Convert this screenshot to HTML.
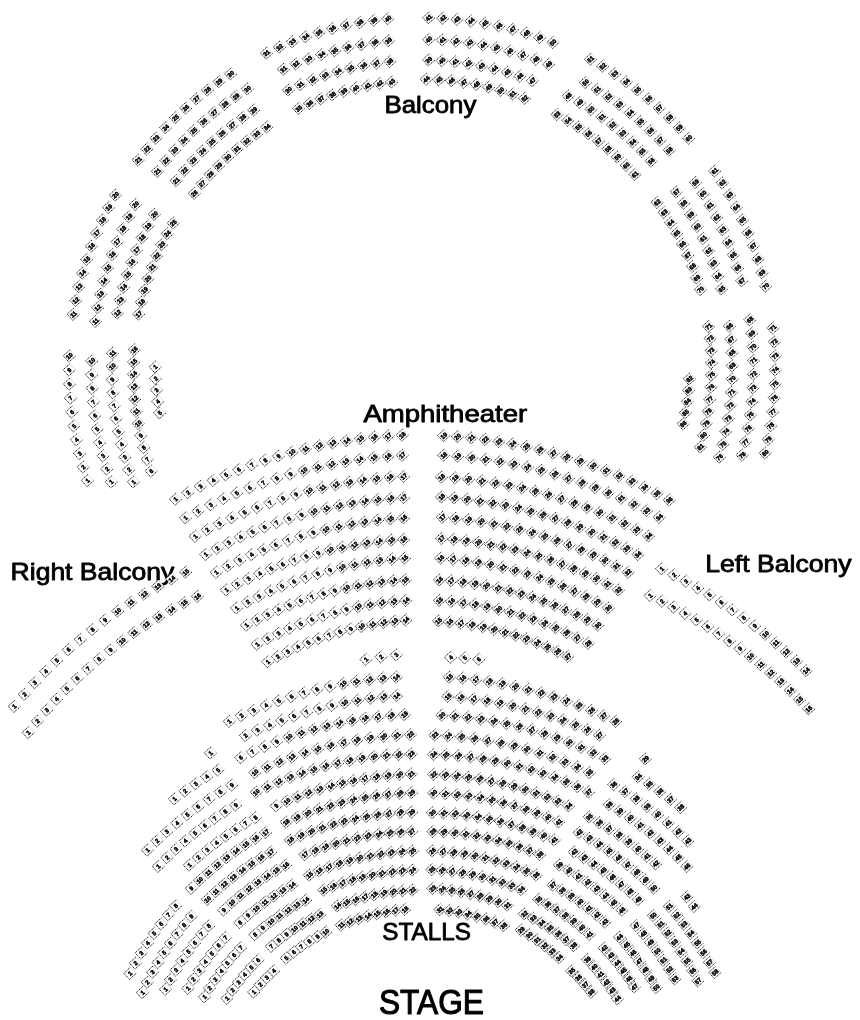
<!DOCTYPE html>
<html><head><meta charset="utf-8"><title>Seating plan</title>
<style>
html,body{margin:0;padding:0;background:#fff}
svg{display:block;opacity:.999;will-change:transform;font-family:"Liberation Sans",sans-serif}
.seats text{font-size:6px;font-weight:bold;text-anchor:middle;fill:#000;stroke:#000;stroke-width:.5px}
.labels text{fill:#000;stroke:#000;stroke-linejoin:round}
</style></head><body>
<svg width="860" height="1020" viewBox="0 0 860 1020">
<defs><g id="s"><path d="M9.0 0H0V8.4H9.0" fill="#fff" stroke="#000" stroke-width=".85" stroke-dasharray="1.3 .8"/><path d="M9.0 0V8.4" fill="none" stroke="#d8d8d8" stroke-width=".7"/></g></defs>
<rect width="860" height="1020" fill="#fff"/>
<g class="labels"><text x="384.4" y="113.0" font-size="23.6" stroke-width="0.8" textLength="92.0" lengthAdjust="spacingAndGlyphs">Balcony</text><text x="363.4" y="421.8" font-size="23.8" stroke-width="0.8" textLength="163.8" lengthAdjust="spacingAndGlyphs">Amphitheater</text><text x="10.6" y="580.0" font-size="23.2" stroke-width="0.8" textLength="163.6" lengthAdjust="spacingAndGlyphs">Right Balcony</text><text x="705.2" y="572.3" font-size="23.2" stroke-width="0.8" textLength="146.4" lengthAdjust="spacingAndGlyphs">Left Balcony</text><text x="382.2" y="939.8" font-size="24.2" stroke-width="0.8" textLength="88.7" lengthAdjust="spacingAndGlyphs">STALLS</text><text x="379.0" y="1014.4" font-size="35.0" stroke-width="1.1" textLength="104.9" lengthAdjust="spacingAndGlyphs">STAGE</text></g>
<g class="seats" transform="rotate(-42.0)">
<use href="#s" x="158.2" y="213.6"/><text x="162.7" y="220.0">31</text>
<use href="#s" x="171.7" y="217.8"/><text x="176.2" y="224.2">32</text>
<use href="#s" x="185.0" y="222.4"/><text x="189.5" y="228.8">33</text>
<use href="#s" x="198.1" y="227.6"/><text x="202.6" y="234.0">34</text>
<use href="#s" x="211.0" y="233.3"/><text x="215.5" y="239.7">35</text>
<use href="#s" x="223.6" y="239.5"/><text x="228.1" y="245.9">36</text>
<use href="#s" x="236.0" y="246.2"/><text x="240.5" y="252.6">37</text>
<use href="#s" x="248.1" y="253.4"/><text x="252.6" y="259.8">38</text>
<use href="#s" x="259.9" y="261.1"/><text x="264.4" y="267.5">39</text>
<use href="#s" x="271.4" y="269.2"/><text x="275.9" y="275.6">40</text>
<use href="#s" x="159.9" y="236.9"/><text x="164.4" y="243.3">31</text>
<use href="#s" x="172.8" y="241.3"/><text x="177.3" y="247.7">32</text>
<use href="#s" x="185.6" y="246.1"/><text x="190.1" y="252.5">33</text>
<use href="#s" x="198.2" y="251.5"/><text x="202.7" y="257.9">34</text>
<use href="#s" x="210.5" y="257.4"/><text x="215.0" y="263.8">35</text>
<use href="#s" x="222.6" y="263.8"/><text x="227.1" y="270.2">36</text>
<use href="#s" x="234.4" y="270.8"/><text x="238.9" y="277.2">37</text>
<use href="#s" x="245.9" y="278.1"/><text x="250.4" y="284.5">38</text>
<use href="#s" x="257.1" y="286.0"/><text x="261.6" y="292.4">39</text>
<use href="#s" x="149.7" y="255.7"/><text x="154.2" y="262.1">30</text>
<use href="#s" x="162.3" y="259.7"/><text x="166.8" y="266.1">31</text>
<use href="#s" x="174.8" y="264.3"/><text x="179.3" y="270.7">32</text>
<use href="#s" x="187.0" y="269.3"/><text x="191.5" y="275.7">33</text>
<use href="#s" x="198.9" y="275.0"/><text x="203.4" y="281.4">34</text>
<use href="#s" x="210.7" y="281.1"/><text x="215.2" y="287.5">35</text>
<use href="#s" x="222.1" y="287.7"/><text x="226.6" y="294.1">36</text>
<use href="#s" x="233.3" y="294.8"/><text x="237.8" y="301.2">37</text>
<use href="#s" x="244.2" y="302.3"/><text x="248.7" y="308.7">38</text>
<use href="#s" x="145.0" y="276.2"/><text x="149.5" y="282.6">35</text>
<use href="#s" x="156.6" y="279.9"/><text x="161.1" y="286.3">36</text>
<use href="#s" x="168.0" y="284.0"/><text x="172.5" y="290.4">37</text>
<use href="#s" x="179.2" y="288.7"/><text x="183.7" y="295.1">38</text>
<use href="#s" x="190.2" y="293.8"/><text x="194.7" y="300.2">39</text>
<use href="#s" x="201.0" y="299.4"/><text x="205.5" y="305.8">40</text>
<use href="#s" x="211.6" y="305.5"/><text x="216.1" y="311.9">41</text>
<use href="#s" x="221.9" y="311.9"/><text x="226.4" y="318.3">42</text>
<use href="#s" x="231.9" y="318.8"/><text x="236.4" y="325.2">43</text>
<use href="#s" x="302.3" y="295.9"/><text x="306.8" y="302.3">41</text>
<use href="#s" x="312.5" y="305.7"/><text x="317.0" y="312.1">42</text>
<use href="#s" x="322.3" y="316.0"/><text x="326.8" y="322.4">43</text>
<use href="#s" x="331.6" y="326.6"/><text x="336.1" y="333.0">44</text>
<use href="#s" x="340.5" y="337.6"/><text x="345.0" y="344.0">45</text>
<use href="#s" x="349.0" y="348.9"/><text x="353.5" y="355.3">46</text>
<use href="#s" x="357.0" y="360.6"/><text x="361.5" y="367.0">47</text>
<use href="#s" x="364.6" y="372.6"/><text x="369.1" y="379.0">48</text>
<use href="#s" x="371.6" y="384.9"/><text x="376.1" y="391.3">49</text>
<use href="#s" x="378.2" y="397.4"/><text x="382.7" y="403.8">50</text>
<use href="#s" x="287.8" y="312.0"/><text x="292.3" y="318.4">40</text>
<use href="#s" x="297.6" y="321.5"/><text x="302.1" y="327.9">41</text>
<use href="#s" x="307.0" y="331.5"/><text x="311.5" y="337.9">42</text>
<use href="#s" x="316.0" y="341.8"/><text x="320.5" y="348.2">43</text>
<use href="#s" x="324.6" y="352.5"/><text x="329.1" y="358.9">44</text>
<use href="#s" x="332.7" y="363.5"/><text x="337.2" y="369.9">45</text>
<use href="#s" x="340.3" y="374.9"/><text x="344.8" y="381.3">46</text>
<use href="#s" x="347.5" y="386.6"/><text x="352.0" y="393.0">47</text>
<use href="#s" x="354.2" y="398.5"/><text x="358.7" y="404.9">48</text>
<use href="#s" x="360.4" y="410.7"/><text x="364.9" y="417.1">49</text>
<use href="#s" x="274.1" y="327.2"/><text x="278.6" y="333.6">39</text>
<use href="#s" x="283.5" y="336.6"/><text x="288.0" y="343.0">40</text>
<use href="#s" x="292.6" y="346.3"/><text x="297.1" y="352.7">41</text>
<use href="#s" x="301.2" y="356.4"/><text x="305.7" y="362.8">42</text>
<use href="#s" x="309.3" y="366.9"/><text x="313.8" y="373.3">43</text>
<use href="#s" x="317.0" y="377.7"/><text x="321.5" y="384.1">44</text>
<use href="#s" x="324.3" y="388.9"/><text x="328.8" y="395.3">45</text>
<use href="#s" x="331.0" y="400.3"/><text x="335.5" y="406.7">46</text>
<use href="#s" x="337.3" y="412.0"/><text x="341.8" y="418.4">47</text>
<use href="#s" x="259.4" y="339.9"/><text x="263.9" y="346.3">44</text>
<use href="#s" x="268.4" y="348.7"/><text x="272.9" y="355.1">45</text>
<use href="#s" x="277.1" y="357.9"/><text x="281.6" y="364.3">46</text>
<use href="#s" x="285.3" y="367.4"/><text x="289.8" y="373.8">47</text>
<use href="#s" x="293.1" y="377.3"/><text x="297.6" y="383.7">48</text>
<use href="#s" x="300.4" y="387.5"/><text x="304.9" y="393.9">49</text>
<use href="#s" x="307.3" y="398.0"/><text x="311.8" y="404.4">50</text>
<use href="#s" x="313.8" y="408.8"/><text x="318.3" y="415.2">51</text>
<use href="#s" x="319.7" y="419.9"/><text x="324.2" y="426.3">52</text>
<use href="#s" x="-8.8" y="207.2"/><text x="-4.3" y="213.6">21</text>
<use href="#s" x="5.1" y="204.8"/><text x="9.6" y="211.2">22</text>
<use href="#s" x="19.1" y="202.8"/><text x="23.6" y="209.2">23</text>
<use href="#s" x="33.2" y="201.5"/><text x="37.7" y="207.9">24</text>
<use href="#s" x="47.3" y="200.6"/><text x="51.8" y="207.0">25</text>
<use href="#s" x="61.4" y="200.4"/><text x="65.9" y="206.8">26</text>
<use href="#s" x="75.5" y="200.7"/><text x="80.0" y="207.1">27</text>
<use href="#s" x="89.6" y="201.6"/><text x="94.1" y="208.0">28</text>
<use href="#s" x="103.7" y="203.1"/><text x="108.2" y="209.5">29</text>
<use href="#s" x="117.6" y="205.1"/><text x="122.1" y="211.5">30</text>
<use href="#s" x="-2.1" y="228.5"/><text x="2.4" y="234.9">21</text>
<use href="#s" x="11.4" y="226.1"/><text x="15.9" y="232.5">22</text>
<use href="#s" x="24.9" y="224.3"/><text x="29.4" y="230.7">23</text>
<use href="#s" x="38.5" y="223.1"/><text x="43.0" y="229.5">24</text>
<use href="#s" x="52.1" y="222.4"/><text x="56.6" y="228.8">25</text>
<use href="#s" x="65.7" y="222.3"/><text x="70.2" y="228.7">26</text>
<use href="#s" x="79.4" y="222.7"/><text x="83.9" y="229.1">27</text>
<use href="#s" x="93.0" y="223.7"/><text x="97.5" y="230.1">28</text>
<use href="#s" x="106.5" y="225.3"/><text x="111.0" y="231.7">29</text>
<use href="#s" x="120.0" y="227.4"/><text x="124.5" y="233.8">30</text>
<use href="#s" x="5.7" y="247.9"/><text x="10.2" y="254.3">21</text>
<use href="#s" x="18.7" y="245.9"/><text x="23.2" y="252.3">22</text>
<use href="#s" x="31.8" y="244.4"/><text x="36.3" y="250.8">23</text>
<use href="#s" x="44.9" y="243.5"/><text x="49.4" y="249.9">24</text>
<use href="#s" x="58.1" y="243.2"/><text x="62.6" y="249.6">25</text>
<use href="#s" x="71.3" y="243.4"/><text x="75.8" y="249.8">26</text>
<use href="#s" x="84.4" y="244.2"/><text x="88.9" y="250.6">27</text>
<use href="#s" x="97.5" y="245.5"/><text x="102.0" y="251.9">28</text>
<use href="#s" x="110.5" y="247.4"/><text x="115.0" y="253.8">29</text>
<use href="#s" x="10.6" y="269.5"/><text x="15.1" y="275.9">26</text>
<use href="#s" x="22.8" y="267.5"/><text x="27.3" y="273.9">27</text>
<use href="#s" x="35.0" y="266.1"/><text x="39.5" y="272.5">28</text>
<use href="#s" x="47.4" y="265.3"/><text x="51.9" y="271.7">29</text>
<use href="#s" x="59.7" y="264.9"/><text x="64.2" y="271.3">30</text>
<use href="#s" x="72.1" y="265.1"/><text x="76.6" y="271.5">31</text>
<use href="#s" x="84.4" y="265.8"/><text x="88.9" y="272.2">32</text>
<use href="#s" x="96.7" y="267.1"/><text x="101.2" y="273.5">33</text>
<use href="#s" x="108.9" y="268.8"/><text x="113.4" y="275.2">34</text>
<use href="#s" x="394.8" y="435.0"/><text x="399.3" y="441.4">51</text>
<use href="#s" x="399.2" y="448.3"/><text x="403.7" y="454.7">52</text>
<use href="#s" x="403.1" y="461.9"/><text x="407.6" y="468.3">53</text>
<use href="#s" x="406.4" y="475.6"/><text x="410.9" y="482.0">54</text>
<use href="#s" x="409.2" y="489.3"/><text x="413.7" y="495.7">55</text>
<use href="#s" x="411.5" y="503.2"/><text x="416.0" y="509.6">56</text>
<use href="#s" x="413.2" y="517.2"/><text x="417.7" y="523.6">57</text>
<use href="#s" x="414.3" y="531.3"/><text x="418.8" y="537.7">58</text>
<use href="#s" x="414.9" y="545.3"/><text x="419.4" y="551.7">59</text>
<use href="#s" x="414.9" y="559.4"/><text x="419.4" y="565.8">60</text>
<use href="#s" x="375.5" y="448.9"/><text x="380.0" y="455.3">50</text>
<use href="#s" x="379.6" y="461.8"/><text x="384.1" y="468.2">51</text>
<use href="#s" x="383.0" y="474.8"/><text x="387.5" y="481.2">52</text>
<use href="#s" x="386.0" y="488.0"/><text x="390.5" y="494.4">53</text>
<use href="#s" x="388.4" y="501.3"/><text x="392.9" y="507.7">54</text>
<use href="#s" x="390.2" y="514.7"/><text x="394.7" y="521.1">55</text>
<use href="#s" x="391.5" y="528.2"/><text x="396.0" y="534.6">56</text>
<use href="#s" x="392.3" y="541.7"/><text x="396.8" y="548.1">57</text>
<use href="#s" x="392.5" y="555.2"/><text x="397.0" y="561.6">58</text>
<use href="#s" x="353.7" y="447.3"/><text x="358.2" y="453.7">48</text>
<use href="#s" x="357.9" y="459.8"/><text x="362.4" y="466.2">49</text>
<use href="#s" x="361.6" y="472.6"/><text x="366.1" y="479.0">50</text>
<use href="#s" x="364.7" y="485.4"/><text x="369.2" y="491.8">51</text>
<use href="#s" x="367.2" y="498.4"/><text x="371.7" y="504.8">52</text>
<use href="#s" x="369.2" y="511.5"/><text x="373.7" y="517.9">53</text>
<use href="#s" x="370.7" y="524.7"/><text x="375.2" y="531.1">54</text>
<use href="#s" x="371.5" y="537.9"/><text x="376.0" y="544.3">55</text>
<use href="#s" x="371.8" y="551.2"/><text x="376.3" y="557.6">56</text>
<use href="#s" x="333.0" y="453.6"/><text x="337.5" y="460.0">53</text>
<use href="#s" x="337.0" y="465.3"/><text x="341.5" y="471.7">54</text>
<use href="#s" x="340.5" y="477.1"/><text x="345.0" y="483.5">55</text>
<use href="#s" x="343.5" y="489.0"/><text x="348.0" y="495.4">56</text>
<use href="#s" x="346.0" y="501.1"/><text x="350.5" y="507.5">57</text>
<use href="#s" x="347.9" y="513.3"/><text x="352.4" y="519.7">58</text>
<use href="#s" x="349.4" y="525.5"/><text x="353.9" y="531.9">59</text>
<use href="#s" x="350.3" y="537.8"/><text x="354.8" y="544.2">60</text>
<use href="#s" x="350.7" y="550.2"/><text x="355.2" y="556.6">61</text>
<use href="#s" x="-160.3" y="278.4"/><text x="-155.8" y="284.8">11</text>
<use href="#s" x="-149.1" y="269.8"/><text x="-144.6" y="276.2">12</text>
<use href="#s" x="-137.6" y="261.6"/><text x="-133.1" y="268.0">13</text>
<use href="#s" x="-125.8" y="253.9"/><text x="-121.3" y="260.3">14</text>
<use href="#s" x="-113.6" y="246.6"/><text x="-109.1" y="253.0">15</text>
<use href="#s" x="-101.2" y="239.9"/><text x="-96.7" y="246.3">16</text>
<use href="#s" x="-88.5" y="233.6"/><text x="-84.0" y="240.0">17</text>
<use href="#s" x="-75.6" y="227.9"/><text x="-71.1" y="234.3">18</text>
<use href="#s" x="-62.5" y="222.7"/><text x="-58.0" y="229.1">19</text>
<use href="#s" x="-49.1" y="218.0"/><text x="-44.6" y="224.4">20</text>
<use href="#s" x="-148.5" y="298.5"/><text x="-144.0" y="304.9">11</text>
<use href="#s" x="-137.7" y="289.9"/><text x="-133.2" y="296.3">12</text>
<use href="#s" x="-126.6" y="281.7"/><text x="-122.1" y="288.1">13</text>
<use href="#s" x="-115.2" y="274.0"/><text x="-110.7" y="280.4">14</text>
<use href="#s" x="-103.4" y="266.8"/><text x="-98.9" y="273.2">15</text>
<use href="#s" x="-91.3" y="260.1"/><text x="-86.8" y="266.5">16</text>
<use href="#s" x="-79.0" y="253.9"/><text x="-74.5" y="260.3">17</text>
<use href="#s" x="-66.4" y="248.2"/><text x="-61.9" y="254.6">18</text>
<use href="#s" x="-53.6" y="243.1"/><text x="-49.1" y="249.5">19</text>
<use href="#s" x="-40.6" y="238.4"/><text x="-36.1" y="244.8">20</text>
<use href="#s" x="-126.6" y="307.0"/><text x="-122.1" y="313.4">12</text>
<use href="#s" x="-115.9" y="299.2"/><text x="-111.4" y="305.6">13</text>
<use href="#s" x="-104.9" y="291.9"/><text x="-100.4" y="298.3">14</text>
<use href="#s" x="-93.5" y="285.1"/><text x="-89.0" y="291.5">15</text>
<use href="#s" x="-81.9" y="278.7"/><text x="-77.4" y="285.1">16</text>
<use href="#s" x="-70.1" y="272.9"/><text x="-65.6" y="279.3">17</text>
<use href="#s" x="-57.9" y="267.5"/><text x="-53.4" y="273.9">18</text>
<use href="#s" x="-45.6" y="262.7"/><text x="-41.1" y="269.1">19</text>
<use href="#s" x="-33.1" y="258.4"/><text x="-28.6" y="264.8">20</text>
<use href="#s" x="-111.5" y="322.0"/><text x="-107.0" y="328.4">17</text>
<use href="#s" x="-101.5" y="314.9"/><text x="-97.0" y="321.3">18</text>
<use href="#s" x="-91.3" y="308.2"/><text x="-86.8" y="314.6">19</text>
<use href="#s" x="-80.8" y="301.9"/><text x="-76.3" y="308.3">20</text>
<use href="#s" x="-70.1" y="296.1"/><text x="-65.6" y="302.5">21</text>
<use href="#s" x="-59.1" y="290.7"/><text x="-54.6" y="297.1">22</text>
<use href="#s" x="-47.9" y="285.8"/><text x="-43.4" y="292.2">23</text>
<use href="#s" x="-36.5" y="281.4"/><text x="-32.0" y="287.8">24</text>
<use href="#s" x="-24.9" y="277.5"/><text x="-20.4" y="283.9">25</text>
<use href="#s" x="412.3" y="601.1"/><text x="416.8" y="607.5">61</text>
<use href="#s" x="410.1" y="615.0"/><text x="414.6" y="621.4">62</text>
<use href="#s" x="407.4" y="628.8"/><text x="411.9" y="635.2">63</text>
<use href="#s" x="404.1" y="642.5"/><text x="408.6" y="648.9">64</text>
<use href="#s" x="400.2" y="656.0"/><text x="404.7" y="662.4">65</text>
<use href="#s" x="395.8" y="669.4"/><text x="400.3" y="675.8">66</text>
<use href="#s" x="390.9" y="682.5"/><text x="395.4" y="688.9">67</text>
<use href="#s" x="385.5" y="695.5"/><text x="390.0" y="701.9">68</text>
<use href="#s" x="379.5" y="708.3"/><text x="384.0" y="714.7">69</text>
<use href="#s" x="373.1" y="720.8"/><text x="377.6" y="727.2">70</text>
<use href="#s" x="390.4" y="596.7"/><text x="394.9" y="603.1">59</text>
<use href="#s" x="388.4" y="610.2"/><text x="392.9" y="616.6">60</text>
<use href="#s" x="385.8" y="623.6"/><text x="390.3" y="630.0">61</text>
<use href="#s" x="382.7" y="636.9"/><text x="387.2" y="643.3">62</text>
<use href="#s" x="379.0" y="650.1"/><text x="383.5" y="656.5">63</text>
<use href="#s" x="374.7" y="663.1"/><text x="379.2" y="669.5">64</text>
<use href="#s" x="370.0" y="675.9"/><text x="374.5" y="682.3">65</text>
<use href="#s" x="364.7" y="688.5"/><text x="369.2" y="694.9">66</text>
<use href="#s" x="358.9" y="700.8"/><text x="363.4" y="707.2">67</text>
<use href="#s" x="369.8" y="591.0"/><text x="374.3" y="597.4">57</text>
<use href="#s" x="367.8" y="604.3"/><text x="372.3" y="610.7">58</text>
<use href="#s" x="365.3" y="617.5"/><text x="369.8" y="623.9">59</text>
<use href="#s" x="362.3" y="630.6"/><text x="366.8" y="637.0">60</text>
<use href="#s" x="358.6" y="643.5"/><text x="363.1" y="649.9">61</text>
<use href="#s" x="354.5" y="656.2"/><text x="359.0" y="662.6">62</text>
<use href="#s" x="349.7" y="668.8"/><text x="354.2" y="675.2">63</text>
<use href="#s" x="344.5" y="681.2"/><text x="349.0" y="687.6">64</text>
<use href="#s" x="338.6" y="693.3"/><text x="343.1" y="699.7">65</text>
<use href="#s" x="348.5" y="585.9"/><text x="353.0" y="592.3">62</text>
<use href="#s" x="347.0" y="598.0"/><text x="351.5" y="604.4">63</text>
<use href="#s" x="345.0" y="610.1"/><text x="349.5" y="616.5">64</text>
<use href="#s" x="342.5" y="622.0"/><text x="347.0" y="628.4">65</text>
<use href="#s" x="339.4" y="633.9"/><text x="343.9" y="640.3">66</text>
<use href="#s" x="335.9" y="645.6"/><text x="340.4" y="652.0">67</text>
<use href="#s" x="331.9" y="657.1"/><text x="336.4" y="663.5">68</text>
<use href="#s" x="327.3" y="668.5"/><text x="331.8" y="674.9">69</text>
<use href="#s" x="322.4" y="679.7"/><text x="326.9" y="686.1">70</text>
<use href="#s" x="-191.1" y="306.7"/><text x="-186.6" y="313.1">10</text>
<use href="#s" x="-200.6" y="317.0"/><text x="-196.1" y="323.4">9</text>
<use href="#s" x="-209.8" y="327.7"/><text x="-205.3" y="334.1">8</text>
<use href="#s" x="-218.5" y="338.8"/><text x="-214.0" y="345.2">7</text>
<use href="#s" x="-226.7" y="350.1"/><text x="-222.2" y="356.5">6</text>
<use href="#s" x="-234.5" y="361.8"/><text x="-230.0" y="368.2">5</text>
<use href="#s" x="-241.8" y="373.8"/><text x="-237.3" y="380.2">4</text>
<use href="#s" x="-248.7" y="386.1"/><text x="-244.2" y="392.5">3</text>
<use href="#s" x="-255.0" y="398.6"/><text x="-250.5" y="405.0">2</text>
<use href="#s" x="-260.9" y="411.4"/><text x="-256.4" y="417.8">1</text>
<use href="#s" x="-177.8" y="325.4"/><text x="-173.3" y="331.8">10</text>
<use href="#s" x="-187.0" y="335.6"/><text x="-182.5" y="342.0">9</text>
<use href="#s" x="-195.8" y="346.0"/><text x="-191.3" y="352.4">8</text>
<use href="#s" x="-204.1" y="356.9"/><text x="-199.6" y="363.3">7</text>
<use href="#s" x="-212.0" y="368.1"/><text x="-207.5" y="374.5">6</text>
<use href="#s" x="-219.5" y="379.6"/><text x="-215.0" y="386.0">5</text>
<use href="#s" x="-226.4" y="391.4"/><text x="-221.9" y="397.8">4</text>
<use href="#s" x="-232.9" y="403.5"/><text x="-228.4" y="409.9">3</text>
<use href="#s" x="-238.8" y="415.8"/><text x="-234.3" y="422.2">2</text>
<use href="#s" x="-244.2" y="428.4"/><text x="-239.7" y="434.8">1</text>
<use href="#s" x="-157.2" y="333.6"/><text x="-152.7" y="340.0">11</text>
<use href="#s" x="-166.2" y="343.1"/><text x="-161.7" y="349.5">10</text>
<use href="#s" x="-174.9" y="353.0"/><text x="-170.4" y="359.4">9</text>
<use href="#s" x="-183.2" y="363.2"/><text x="-178.7" y="369.6">8</text>
<use href="#s" x="-191.0" y="373.8"/><text x="-186.5" y="380.2">7</text>
<use href="#s" x="-198.3" y="384.6"/><text x="-193.8" y="391.0">6</text>
<use href="#s" x="-205.2" y="395.8"/><text x="-200.7" y="402.2">5</text>
<use href="#s" x="-211.6" y="407.3"/><text x="-207.1" y="413.7">4</text>
<use href="#s" x="-217.5" y="419.0"/><text x="-213.0" y="425.4">3</text>
<use href="#s" x="-222.9" y="431.0"/><text x="-218.4" y="437.4">2</text>
<use href="#s" x="-227.8" y="443.2"/><text x="-223.3" y="449.6">1</text>
<use href="#s" x="-138.5" y="345.5"/><text x="-134.0" y="351.9">16</text>
<use href="#s" x="-147.3" y="354.2"/><text x="-142.8" y="360.6">15</text>
<use href="#s" x="-155.6" y="363.3"/><text x="-151.1" y="369.7">14</text>
<use href="#s" x="-163.6" y="372.8"/><text x="-159.1" y="379.2">13</text>
<use href="#s" x="-171.2" y="382.5"/><text x="-166.7" y="388.9">12</text>
<use href="#s" x="-178.3" y="392.6"/><text x="-173.8" y="399.0">11</text>
<use href="#s" x="-185.0" y="403.0"/><text x="-180.5" y="409.4">10</text>
<use href="#s" x="-191.2" y="413.6"/><text x="-186.7" y="420.0">9</text>
<use href="#s" x="-197.0" y="424.5"/><text x="-192.5" y="430.9">8</text>
<use href="#s" x="-202.3" y="435.6"/><text x="-197.8" y="442.0">7</text>
<use href="#s" x="-207.2" y="447.0"/><text x="-202.7" y="453.4">6</text>
<use href="#s" x="-134.5" y="372.4"/><text x="-130.0" y="378.8">1</text>
<use href="#s" x="-142.0" y="381.2"/><text x="-137.5" y="387.6">2</text>
<use href="#s" x="-149.1" y="390.3"/><text x="-144.6" y="396.7">3</text>
<use href="#s" x="-155.8" y="399.7"/><text x="-151.3" y="406.1">4</text>
<use href="#s" x="-162.0" y="409.4"/><text x="-157.5" y="415.8">5</text>
<use href="#s" x="350.5" y="756.8"/><text x="355.0" y="763.2">71</text>
<use href="#s" x="342.2" y="768.0"/><text x="346.7" y="774.4">72</text>
<use href="#s" x="333.4" y="779.0"/><text x="337.9" y="785.4">73</text>
<use href="#s" x="324.2" y="789.5"/><text x="328.7" y="795.9">74</text>
<use href="#s" x="314.7" y="799.7"/><text x="319.2" y="806.1">75</text>
<use href="#s" x="304.7" y="809.5"/><text x="309.2" y="815.9">76</text>
<use href="#s" x="294.3" y="818.9"/><text x="298.8" y="825.3">77</text>
<use href="#s" x="283.6" y="827.9"/><text x="288.1" y="834.3">78</text>
<use href="#s" x="272.5" y="836.4"/><text x="277.0" y="842.8">79</text>
<use href="#s" x="261.1" y="844.5"/><text x="265.6" y="850.9">80</text>
<use href="#s" x="338.9" y="735.2"/><text x="343.4" y="741.6">68</text>
<use href="#s" x="331.2" y="746.5"/><text x="335.7" y="752.9">69</text>
<use href="#s" x="323.0" y="757.4"/><text x="327.5" y="763.8">70</text>
<use href="#s" x="314.3" y="767.9"/><text x="318.8" y="774.3">71</text>
<use href="#s" x="305.2" y="778.1"/><text x="309.7" y="784.5">72</text>
<use href="#s" x="295.7" y="787.9"/><text x="300.2" y="794.3">73</text>
<use href="#s" x="285.8" y="797.3"/><text x="290.3" y="803.7">74</text>
<use href="#s" x="275.5" y="806.3"/><text x="280.0" y="812.7">75</text>
<use href="#s" x="264.9" y="814.8"/><text x="269.4" y="821.2">76</text>
<use href="#s" x="253.9" y="822.9"/><text x="258.4" y="829.3">77</text>
<use href="#s" x="242.6" y="830.6"/><text x="247.1" y="837.0">78</text>
<use href="#s" x="319.4" y="726.3"/><text x="323.9" y="732.7">66</text>
<use href="#s" x="311.7" y="737.1"/><text x="316.2" y="743.5">67</text>
<use href="#s" x="303.6" y="747.6"/><text x="308.1" y="754.0">68</text>
<use href="#s" x="295.1" y="757.6"/><text x="299.6" y="764.0">69</text>
<use href="#s" x="286.1" y="767.4"/><text x="290.6" y="773.8">70</text>
<use href="#s" x="276.7" y="776.7"/><text x="281.2" y="783.1">71</text>
<use href="#s" x="267.0" y="785.6"/><text x="271.5" y="792.0">72</text>
<use href="#s" x="256.8" y="794.1"/><text x="261.3" y="800.5">73</text>
<use href="#s" x="246.3" y="802.1"/><text x="250.8" y="808.5">74</text>
<use href="#s" x="235.5" y="809.7"/><text x="240.0" y="816.1">75</text>
<use href="#s" x="224.4" y="816.9"/><text x="228.9" y="823.3">76</text>
<use href="#s" x="303.8" y="712.5"/><text x="308.3" y="718.9">71</text>
<use href="#s" x="296.8" y="722.5"/><text x="301.3" y="728.9">72</text>
<use href="#s" x="289.4" y="732.2"/><text x="293.9" y="738.6">73</text>
<use href="#s" x="281.6" y="741.5"/><text x="286.1" y="747.9">74</text>
<use href="#s" x="273.4" y="750.5"/><text x="277.9" y="756.9">75</text>
<use href="#s" x="264.9" y="759.2"/><text x="269.4" y="765.6">76</text>
<use href="#s" x="255.9" y="767.5"/><text x="260.4" y="773.9">77</text>
<use href="#s" x="246.7" y="775.4"/><text x="251.2" y="781.8">78</text>
<use href="#s" x="237.1" y="782.9"/><text x="241.6" y="789.3">79</text>
<use href="#s" x="227.2" y="790.0"/><text x="231.7" y="796.4">80</text>
<use href="#s" x="217.0" y="796.7"/><text x="221.5" y="803.1">81</text>
<use href="#s" x="254.4" y="738.7"/><text x="258.9" y="745.1">82</text>
<use href="#s" x="246.2" y="746.5"/><text x="250.7" y="752.9">83</text>
<use href="#s" x="237.7" y="754.1"/><text x="242.2" y="760.5">84</text>
<use href="#s" x="228.9" y="761.2"/><text x="233.4" y="767.6">85</text>
<use href="#s" x="219.7" y="768.0"/><text x="224.2" y="774.4">86</text>
<use href="#s" x="-208.0" y="484.2"/><text x="-203.5" y="490.6">1</text>
<use href="#s" x="-194.4" y="487.6"/><text x="-189.9" y="494.0">2</text>
<use href="#s" x="-180.9" y="491.3"/><text x="-176.4" y="497.7">3</text>
<use href="#s" x="-167.5" y="495.4"/><text x="-163.0" y="501.8">4</text>
<use href="#s" x="-154.3" y="499.8"/><text x="-149.8" y="506.2">5</text>
<use href="#s" x="-141.2" y="504.6"/><text x="-136.7" y="511.0">6</text>
<use href="#s" x="-128.2" y="509.7"/><text x="-123.7" y="516.1">7</text>
<use href="#s" x="-115.3" y="515.2"/><text x="-110.8" y="521.6">8</text>
<use href="#s" x="-102.6" y="521.0"/><text x="-98.1" y="527.4">9</text>
<use href="#s" x="-90.1" y="527.2"/><text x="-85.6" y="533.6">10</text>
<use href="#s" x="-77.7" y="533.7"/><text x="-73.2" y="540.1">11</text>
<use href="#s" x="-65.5" y="540.6"/><text x="-61.0" y="547.0">12</text>
<use href="#s" x="-53.5" y="547.7"/><text x="-49.0" y="554.1">13</text>
<use href="#s" x="-41.7" y="555.2"/><text x="-37.2" y="561.6">14</text>
<use href="#s" x="-30.1" y="563.0"/><text x="-25.6" y="569.4">15</text>
<use href="#s" x="-18.7" y="571.1"/><text x="-14.2" y="577.5">16</text>
<use href="#s" x="-7.5" y="579.5"/><text x="-3.0" y="585.9">17</text>
<use href="#s" x="3.4" y="588.3"/><text x="7.9" y="594.7">18</text>
<use href="#s" x="-213.0" y="504.8"/><text x="-208.5" y="511.2">1</text>
<use href="#s" x="-199.2" y="508.1"/><text x="-194.7" y="514.5">2</text>
<use href="#s" x="-185.5" y="511.9"/><text x="-181.0" y="518.3">3</text>
<use href="#s" x="-171.9" y="516.0"/><text x="-167.4" y="522.4">4</text>
<use href="#s" x="-158.4" y="520.5"/><text x="-153.9" y="526.9">5</text>
<use href="#s" x="-145.1" y="525.4"/><text x="-140.6" y="531.8">6</text>
<use href="#s" x="-131.9" y="530.7"/><text x="-127.4" y="537.1">7</text>
<use href="#s" x="-118.8" y="536.4"/><text x="-114.3" y="542.8">8</text>
<use href="#s" x="-105.9" y="542.4"/><text x="-101.4" y="548.8">9</text>
<use href="#s" x="-93.2" y="548.8"/><text x="-88.7" y="555.2">10</text>
<use href="#s" x="-80.7" y="555.6"/><text x="-76.2" y="562.0">11</text>
<use href="#s" x="-68.4" y="562.7"/><text x="-63.9" y="569.1">12</text>
<use href="#s" x="-56.3" y="570.1"/><text x="-51.8" y="576.5">13</text>
<use href="#s" x="-44.4" y="577.9"/><text x="-39.9" y="584.3">14</text>
<use href="#s" x="-32.7" y="586.0"/><text x="-28.2" y="592.4">15</text>
<use href="#s" x="-21.3" y="594.5"/><text x="-16.8" y="600.9">16</text>
<use href="#s" x="-10.1" y="603.3"/><text x="-5.6" y="609.7">17</text>
<use href="#s" x="-218.2" y="524.9"/><text x="-213.7" y="531.3">1</text>
<use href="#s" x="-204.9" y="528.1"/><text x="-200.4" y="534.5">2</text>
<use href="#s" x="-191.7" y="531.7"/><text x="-187.2" y="538.1">3</text>
<use href="#s" x="-178.7" y="535.7"/><text x="-174.2" y="542.1">4</text>
<use href="#s" x="-165.7" y="540.1"/><text x="-161.2" y="546.5">5</text>
<use href="#s" x="-152.9" y="544.9"/><text x="-148.4" y="551.3">6</text>
<use href="#s" x="-140.2" y="550.0"/><text x="-135.7" y="556.4">7</text>
<use href="#s" x="-127.6" y="555.4"/><text x="-123.1" y="561.8">8</text>
<use href="#s" x="-115.2" y="561.2"/><text x="-110.7" y="567.6">9</text>
<use href="#s" x="-103.0" y="567.4"/><text x="-98.5" y="573.8">10</text>
<use href="#s" x="-91.0" y="573.9"/><text x="-86.5" y="580.3">11</text>
<use href="#s" x="-79.2" y="580.8"/><text x="-74.7" y="587.2">12</text>
<use href="#s" x="-67.5" y="588.0"/><text x="-63.0" y="594.4">13</text>
<use href="#s" x="-56.1" y="595.5"/><text x="-51.6" y="601.9">14</text>
<use href="#s" x="-44.9" y="603.4"/><text x="-40.4" y="609.8">15</text>
<use href="#s" x="-33.9" y="611.5"/><text x="-29.4" y="617.9">16</text>
<use href="#s" x="-23.2" y="620.0"/><text x="-18.7" y="626.4">17</text>
<use href="#s" x="-222.5" y="545.5"/><text x="-218.0" y="551.9">1</text>
<use href="#s" x="-209.9" y="548.6"/><text x="-205.4" y="555.0">2</text>
<use href="#s" x="-197.4" y="552.0"/><text x="-192.9" y="558.4">3</text>
<use href="#s" x="-185.0" y="555.8"/><text x="-180.5" y="562.2">4</text>
<use href="#s" x="-172.7" y="560.0"/><text x="-168.2" y="566.4">5</text>
<use href="#s" x="-160.5" y="564.5"/><text x="-156.0" y="570.9">6</text>
<use href="#s" x="-148.4" y="569.3"/><text x="-143.9" y="575.7">7</text>
<use href="#s" x="-136.5" y="574.5"/><text x="-132.0" y="580.9">8</text>
<use href="#s" x="-124.8" y="580.0"/><text x="-120.3" y="586.4">9</text>
<use href="#s" x="-113.2" y="585.9"/><text x="-108.7" y="592.3">10</text>
<use href="#s" x="-101.8" y="592.1"/><text x="-97.3" y="598.5">11</text>
<use href="#s" x="-90.5" y="598.6"/><text x="-86.0" y="605.0">12</text>
<use href="#s" x="-79.5" y="605.4"/><text x="-75.0" y="611.8">13</text>
<use href="#s" x="-68.6" y="612.5"/><text x="-64.1" y="618.9">14</text>
<use href="#s" x="-58.0" y="619.9"/><text x="-53.5" y="626.3">15</text>
<use href="#s" x="-47.5" y="627.7"/><text x="-43.0" y="634.1">16</text>
<use href="#s" x="-37.3" y="635.7"/><text x="-32.8" y="642.1">17</text>
<use href="#s" x="-226.6" y="565.8"/><text x="-222.1" y="572.2">1</text>
<use href="#s" x="-213.8" y="568.9"/><text x="-209.3" y="575.3">2</text>
<use href="#s" x="-201.2" y="572.4"/><text x="-196.7" y="578.8">3</text>
<use href="#s" x="-188.6" y="576.3"/><text x="-184.1" y="582.7">4</text>
<use href="#s" x="-176.2" y="580.6"/><text x="-171.7" y="587.0">5</text>
<use href="#s" x="-164.0" y="585.2"/><text x="-159.5" y="591.6">6</text>
<use href="#s" x="-151.8" y="590.2"/><text x="-147.3" y="596.6">7</text>
<use href="#s" x="-139.8" y="595.6"/><text x="-135.3" y="602.0">8</text>
<use href="#s" x="-128.0" y="601.3"/><text x="-123.5" y="607.7">9</text>
<use href="#s" x="-116.4" y="607.3"/><text x="-111.9" y="613.7">10</text>
<use href="#s" x="-105.0" y="613.7"/><text x="-100.5" y="620.1">11</text>
<use href="#s" x="-93.7" y="620.5"/><text x="-89.2" y="626.9">12</text>
<use href="#s" x="-82.7" y="627.6"/><text x="-78.2" y="634.0">13</text>
<use href="#s" x="-71.8" y="635.0"/><text x="-67.3" y="641.4">14</text>
<use href="#s" x="-61.3" y="642.7"/><text x="-56.8" y="649.1">15</text>
<use href="#s" x="-50.9" y="650.8"/><text x="-46.4" y="657.2">16</text>
<use href="#s" x="-230.9" y="585.6"/><text x="-226.4" y="592.0">1</text>
<use href="#s" x="-218.9" y="588.6"/><text x="-214.4" y="595.0">2</text>
<use href="#s" x="-207.0" y="592.0"/><text x="-202.5" y="598.4">3</text>
<use href="#s" x="-195.1" y="595.8"/><text x="-190.6" y="602.2">4</text>
<use href="#s" x="-183.4" y="599.8"/><text x="-178.9" y="606.2">5</text>
<use href="#s" x="-171.8" y="604.3"/><text x="-167.3" y="610.7">6</text>
<use href="#s" x="-160.4" y="609.1"/><text x="-155.9" y="615.5">7</text>
<use href="#s" x="-149.1" y="614.2"/><text x="-144.6" y="620.6">8</text>
<use href="#s" x="-138.0" y="619.6"/><text x="-133.5" y="626.0">9</text>
<use href="#s" x="-127.0" y="625.4"/><text x="-122.5" y="631.8">10</text>
<use href="#s" x="-116.2" y="631.5"/><text x="-111.7" y="637.9">11</text>
<use href="#s" x="-105.6" y="638.0"/><text x="-101.1" y="644.4">12</text>
<use href="#s" x="-95.2" y="644.7"/><text x="-90.7" y="651.1">13</text>
<use href="#s" x="-85.0" y="651.8"/><text x="-80.5" y="658.2">14</text>
<use href="#s" x="-75.0" y="659.1"/><text x="-70.5" y="665.5">15</text>
<use href="#s" x="-65.3" y="666.8"/><text x="-60.8" y="673.2">16</text>
<use href="#s" x="-235.4" y="605.9"/><text x="-230.9" y="612.3">1</text>
<use href="#s" x="-223.2" y="608.8"/><text x="-218.7" y="615.2">2</text>
<use href="#s" x="-211.0" y="612.2"/><text x="-206.5" y="618.6">3</text>
<use href="#s" x="-198.9" y="615.9"/><text x="-194.4" y="622.3">4</text>
<use href="#s" x="-187.0" y="620.1"/><text x="-182.5" y="626.5">5</text>
<use href="#s" x="-175.2" y="624.6"/><text x="-170.7" y="631.0">6</text>
<use href="#s" x="-163.5" y="629.4"/><text x="-159.0" y="635.8">7</text>
<use href="#s" x="-152.1" y="634.7"/><text x="-147.6" y="641.1">8</text>
<use href="#s" x="-140.7" y="640.3"/><text x="-136.2" y="646.7">9</text>
<use href="#s" x="-129.6" y="646.3"/><text x="-125.1" y="652.7">10</text>
<use href="#s" x="-118.7" y="652.6"/><text x="-114.2" y="659.0">11</text>
<use href="#s" x="-107.9" y="659.3"/><text x="-103.4" y="665.7">12</text>
<use href="#s" x="-97.4" y="666.3"/><text x="-92.9" y="672.7">13</text>
<use href="#s" x="-87.2" y="673.6"/><text x="-82.7" y="680.0">14</text>
<use href="#s" x="-77.1" y="681.3"/><text x="-72.6" y="687.7">15</text>
<use href="#s" x="-239.5" y="625.3"/><text x="-235.0" y="631.7">1</text>
<use href="#s" x="-228.0" y="628.3"/><text x="-223.5" y="634.7">2</text>
<use href="#s" x="-216.6" y="631.6"/><text x="-212.1" y="638.0">3</text>
<use href="#s" x="-205.3" y="635.2"/><text x="-200.8" y="641.6">4</text>
<use href="#s" x="-194.1" y="639.2"/><text x="-189.6" y="645.6">5</text>
<use href="#s" x="-183.0" y="643.6"/><text x="-178.5" y="650.0">6</text>
<use href="#s" x="-172.1" y="648.3"/><text x="-167.6" y="654.7">7</text>
<use href="#s" x="-161.3" y="653.4"/><text x="-156.8" y="659.8">8</text>
<use href="#s" x="-150.8" y="658.7"/><text x="-146.3" y="665.1">9</text>
<use href="#s" x="-140.3" y="664.5"/><text x="-135.8" y="670.9">10</text>
<use href="#s" x="-130.1" y="670.5"/><text x="-125.6" y="676.9">11</text>
<use href="#s" x="-120.1" y="676.9"/><text x="-115.6" y="683.3">12</text>
<use href="#s" x="-110.3" y="683.6"/><text x="-105.8" y="690.0">13</text>
<use href="#s" x="-100.6" y="690.6"/><text x="-96.1" y="697.0">14</text>
<use href="#s" x="-91.3" y="697.9"/><text x="-86.8" y="704.3">15</text>
<use href="#s" x="-244.4" y="646.6"/><text x="-239.9" y="653.0">1</text>
<use href="#s" x="-232.7" y="649.5"/><text x="-228.2" y="655.9">2</text>
<use href="#s" x="-221.2" y="652.8"/><text x="-216.7" y="659.2">3</text>
<use href="#s" x="-209.7" y="656.5"/><text x="-205.2" y="662.9">4</text>
<use href="#s" x="-198.4" y="660.5"/><text x="-193.9" y="666.9">5</text>
<use href="#s" x="-187.2" y="665.0"/><text x="-182.7" y="671.4">6</text>
<use href="#s" x="-176.2" y="669.8"/><text x="-171.7" y="676.2">7</text>
<use href="#s" x="-165.4" y="675.0"/><text x="-160.9" y="681.4">8</text>
<use href="#s" x="-154.7" y="680.5"/><text x="-150.2" y="686.9">9</text>
<use href="#s" x="-144.2" y="686.4"/><text x="-139.7" y="692.8">10</text>
<use href="#s" x="-134.0" y="692.7"/><text x="-129.5" y="699.1">11</text>
<use href="#s" x="-123.9" y="699.3"/><text x="-119.4" y="705.7">12</text>
<use href="#s" x="-114.1" y="706.2"/><text x="-109.6" y="712.6">13</text>
<use href="#s" x="-104.5" y="713.5"/><text x="-100.0" y="719.9">14</text>
<use href="#s" x="-248.2" y="666.7"/><text x="-243.7" y="673.1">1</text>
<use href="#s" x="-237.4" y="669.4"/><text x="-232.9" y="675.8">2</text>
<use href="#s" x="-226.6" y="672.4"/><text x="-222.1" y="678.8">3</text>
<use href="#s" x="-215.9" y="675.7"/><text x="-211.4" y="682.1">4</text>
<use href="#s" x="-205.4" y="679.5"/><text x="-200.9" y="685.9">5</text>
<use href="#s" x="-195.0" y="683.5"/><text x="-190.5" y="689.9">6</text>
<use href="#s" x="-184.7" y="688.0"/><text x="-180.2" y="694.4">7</text>
<use href="#s" x="-174.6" y="692.7"/><text x="-170.1" y="699.1">8</text>
<use href="#s" x="-164.6" y="697.8"/><text x="-160.1" y="704.2">9</text>
<use href="#s" x="-154.9" y="703.3"/><text x="-150.4" y="709.7">10</text>
<use href="#s" x="-145.3" y="709.0"/><text x="-140.8" y="715.4">11</text>
<use href="#s" x="-135.9" y="715.1"/><text x="-131.4" y="721.5">12</text>
<use href="#s" x="-126.7" y="721.5"/><text x="-122.2" y="727.9">13</text>
<use href="#s" x="-117.7" y="728.1"/><text x="-113.2" y="734.5">14</text>
<use href="#s" x="-173.7" y="730.7"/><text x="-169.2" y="737.1">1</text>
<use href="#s" x="-160.7" y="738.8"/><text x="-156.2" y="745.2">2</text>
<use href="#s" x="-148.1" y="747.6"/><text x="-143.6" y="754.0">3</text>
<use href="#s" x="33.8" y="616.4"/><text x="38.3" y="622.8">19</text>
<use href="#s" x="43.5" y="626.4"/><text x="48.0" y="632.8">20</text>
<use href="#s" x="53.0" y="636.6"/><text x="57.5" y="643.0">21</text>
<use href="#s" x="62.1" y="647.0"/><text x="66.6" y="653.4">22</text>
<use href="#s" x="71.0" y="657.7"/><text x="75.5" y="664.1">23</text>
<use href="#s" x="79.7" y="668.7"/><text x="84.2" y="675.1">24</text>
<use href="#s" x="88.0" y="679.8"/><text x="92.5" y="686.2">25</text>
<use href="#s" x="96.0" y="691.2"/><text x="100.5" y="697.6">26</text>
<use href="#s" x="103.7" y="702.8"/><text x="108.2" y="709.2">27</text>
<use href="#s" x="111.1" y="714.6"/><text x="115.6" y="721.0">28</text>
<use href="#s" x="118.2" y="726.6"/><text x="122.7" y="733.0">29</text>
<use href="#s" x="124.9" y="738.8"/><text x="129.4" y="745.2">30</text>
<use href="#s" x="131.3" y="751.1"/><text x="135.8" y="757.5">31</text>
<use href="#s" x="137.4" y="763.6"/><text x="141.9" y="770.0">32</text>
<use href="#s" x="143.2" y="776.3"/><text x="147.7" y="782.7">33</text>
<use href="#s" x="148.6" y="789.2"/><text x="153.1" y="795.6">34</text>
<use href="#s" x="153.6" y="802.1"/><text x="158.1" y="808.5">35</text>
<use href="#s" x="158.3" y="815.2"/><text x="162.8" y="821.6">36</text>
<use href="#s" x="20.6" y="631.0"/><text x="25.1" y="637.4">18</text>
<use href="#s" x="30.5" y="641.1"/><text x="35.0" y="647.5">19</text>
<use href="#s" x="40.0" y="651.5"/><text x="44.5" y="657.9">20</text>
<use href="#s" x="49.3" y="662.2"/><text x="53.8" y="668.6">21</text>
<use href="#s" x="58.3" y="673.2"/><text x="62.8" y="679.6">22</text>
<use href="#s" x="66.9" y="684.4"/><text x="71.4" y="690.8">23</text>
<use href="#s" x="75.2" y="695.8"/><text x="79.7" y="702.2">24</text>
<use href="#s" x="83.2" y="707.5"/><text x="87.7" y="713.9">25</text>
<use href="#s" x="90.9" y="719.4"/><text x="95.4" y="725.8">26</text>
<use href="#s" x="98.2" y="731.5"/><text x="102.7" y="737.9">27</text>
<use href="#s" x="105.1" y="743.8"/><text x="109.6" y="750.2">28</text>
<use href="#s" x="111.7" y="756.3"/><text x="116.2" y="762.7">29</text>
<use href="#s" x="118.0" y="769.0"/><text x="122.5" y="775.4">30</text>
<use href="#s" x="123.9" y="781.8"/><text x="128.4" y="788.2">31</text>
<use href="#s" x="129.4" y="794.8"/><text x="133.9" y="801.2">32</text>
<use href="#s" x="134.6" y="808.0"/><text x="139.1" y="814.4">33</text>
<use href="#s" x="139.4" y="821.3"/><text x="143.9" y="827.7">34</text>
<use href="#s" x="4.5" y="645.8"/><text x="9.0" y="652.2">18</text>
<use href="#s" x="14.0" y="655.5"/><text x="18.5" y="661.9">19</text>
<use href="#s" x="23.2" y="665.4"/><text x="27.7" y="671.8">20</text>
<use href="#s" x="32.1" y="675.7"/><text x="36.6" y="682.1">21</text>
<use href="#s" x="40.7" y="686.2"/><text x="45.2" y="692.6">22</text>
<use href="#s" x="49.1" y="696.9"/><text x="53.6" y="703.3">23</text>
<use href="#s" x="57.1" y="707.8"/><text x="61.6" y="714.2">24</text>
<use href="#s" x="64.8" y="719.0"/><text x="69.3" y="725.4">25</text>
<use href="#s" x="72.2" y="730.4"/><text x="76.7" y="736.8">26</text>
<use href="#s" x="79.2" y="742.0"/><text x="83.7" y="748.4">27</text>
<use href="#s" x="85.9" y="753.8"/><text x="90.4" y="760.2">28</text>
<use href="#s" x="92.3" y="765.8"/><text x="96.8" y="772.2">29</text>
<use href="#s" x="98.4" y="777.9"/><text x="102.9" y="784.3">30</text>
<use href="#s" x="104.1" y="790.2"/><text x="108.6" y="796.6">31</text>
<use href="#s" x="109.4" y="802.7"/><text x="113.9" y="809.1">32</text>
<use href="#s" x="114.4" y="815.4"/><text x="118.9" y="821.8">33</text>
<use href="#s" x="119.0" y="828.1"/><text x="123.5" y="834.5">34</text>
<use href="#s" x="-8.8" y="660.6"/><text x="-4.3" y="667.0">18</text>
<use href="#s" x="0.1" y="669.9"/><text x="4.6" y="676.3">19</text>
<use href="#s" x="8.8" y="679.4"/><text x="13.3" y="685.8">20</text>
<use href="#s" x="17.2" y="689.2"/><text x="21.7" y="695.6">21</text>
<use href="#s" x="25.3" y="699.3"/><text x="29.8" y="705.7">22</text>
<use href="#s" x="33.1" y="709.5"/><text x="37.6" y="715.9">23</text>
<use href="#s" x="40.7" y="720.0"/><text x="45.2" y="726.4">24</text>
<use href="#s" x="47.9" y="730.7"/><text x="52.4" y="737.1">25</text>
<use href="#s" x="54.8" y="741.6"/><text x="59.3" y="748.0">26</text>
<use href="#s" x="61.5" y="752.6"/><text x="66.0" y="759.0">27</text>
<use href="#s" x="67.8" y="763.9"/><text x="72.3" y="770.3">28</text>
<use href="#s" x="73.8" y="775.3"/><text x="78.3" y="781.7">29</text>
<use href="#s" x="79.4" y="786.9"/><text x="83.9" y="793.3">30</text>
<use href="#s" x="84.8" y="798.7"/><text x="89.3" y="805.1">31</text>
<use href="#s" x="89.8" y="810.6"/><text x="94.3" y="817.0">32</text>
<use href="#s" x="94.4" y="822.6"/><text x="98.9" y="829.0">33</text>
<use href="#s" x="98.7" y="834.8"/><text x="103.2" y="841.2">34</text>
<use href="#s" x="-21.7" y="676.2"/><text x="-17.2" y="682.6">17</text>
<use href="#s" x="-12.8" y="685.7"/><text x="-8.3" y="692.1">18</text>
<use href="#s" x="-4.1" y="695.4"/><text x="0.4" y="701.8">19</text>
<use href="#s" x="4.3" y="705.4"/><text x="8.8" y="711.8">20</text>
<use href="#s" x="12.3" y="715.6"/><text x="16.8" y="722.0">21</text>
<use href="#s" x="20.1" y="726.0"/><text x="24.6" y="732.4">22</text>
<use href="#s" x="27.5" y="736.7"/><text x="32.0" y="743.1">23</text>
<use href="#s" x="34.7" y="747.6"/><text x="39.2" y="754.0">24</text>
<use href="#s" x="41.5" y="758.7"/><text x="46.0" y="765.1">25</text>
<use href="#s" x="47.9" y="770.0"/><text x="52.4" y="776.4">26</text>
<use href="#s" x="54.0" y="781.4"/><text x="58.5" y="787.8">27</text>
<use href="#s" x="59.8" y="793.1"/><text x="64.3" y="799.5">28</text>
<use href="#s" x="65.3" y="804.9"/><text x="69.8" y="811.3">29</text>
<use href="#s" x="70.3" y="816.9"/><text x="74.8" y="823.3">30</text>
<use href="#s" x="75.0" y="829.0"/><text x="79.5" y="835.4">31</text>
<use href="#s" x="79.4" y="841.3"/><text x="83.9" y="847.7">32</text>
<use href="#s" x="-36.6" y="691.4"/><text x="-32.1" y="697.8">17</text>
<use href="#s" x="-28.0" y="700.3"/><text x="-23.5" y="706.7">18</text>
<use href="#s" x="-19.7" y="709.5"/><text x="-15.2" y="715.9">19</text>
<use href="#s" x="-11.7" y="719.0"/><text x="-7.2" y="725.4">20</text>
<use href="#s" x="-4.0" y="728.7"/><text x="0.5" y="735.1">21</text>
<use href="#s" x="3.5" y="738.6"/><text x="8.0" y="745.0">22</text>
<use href="#s" x="10.6" y="748.7"/><text x="15.1" y="755.1">23</text>
<use href="#s" x="17.4" y="759.0"/><text x="21.9" y="765.4">24</text>
<use href="#s" x="24.0" y="769.5"/><text x="28.5" y="775.9">25</text>
<use href="#s" x="30.2" y="780.2"/><text x="34.7" y="786.6">26</text>
<use href="#s" x="36.0" y="791.1"/><text x="40.5" y="797.5">27</text>
<use href="#s" x="41.6" y="802.2"/><text x="46.1" y="808.6">28</text>
<use href="#s" x="46.8" y="813.4"/><text x="51.3" y="819.8">29</text>
<use href="#s" x="51.7" y="824.8"/><text x="56.2" y="831.2">30</text>
<use href="#s" x="56.3" y="836.3"/><text x="60.8" y="842.7">31</text>
<use href="#s" x="60.5" y="848.0"/><text x="65.0" y="854.4">32</text>
<use href="#s" x="-50.4" y="705.4"/><text x="-45.9" y="711.8">16</text>
<use href="#s" x="-41.7" y="714.5"/><text x="-37.2" y="720.9">17</text>
<use href="#s" x="-33.4" y="724.0"/><text x="-28.9" y="730.4">18</text>
<use href="#s" x="-25.3" y="733.7"/><text x="-20.8" y="740.1">19</text>
<use href="#s" x="-17.6" y="743.6"/><text x="-13.1" y="750.0">20</text>
<use href="#s" x="-10.2" y="753.8"/><text x="-5.7" y="760.2">21</text>
<use href="#s" x="-3.1" y="764.3"/><text x="1.4" y="770.7">22</text>
<use href="#s" x="3.7" y="774.9"/><text x="8.2" y="781.3">23</text>
<use href="#s" x="10.1" y="785.8"/><text x="14.6" y="792.2">24</text>
<use href="#s" x="16.1" y="796.8"/><text x="20.6" y="803.2">25</text>
<use href="#s" x="21.8" y="808.1"/><text x="26.3" y="814.5">26</text>
<use href="#s" x="27.1" y="819.5"/><text x="31.6" y="825.9">27</text>
<use href="#s" x="32.1" y="831.1"/><text x="36.6" y="837.5">28</text>
<use href="#s" x="36.7" y="842.8"/><text x="41.2" y="849.2">29</text>
<use href="#s" x="40.9" y="854.7"/><text x="45.4" y="861.1">30</text>
<use href="#s" x="-65.8" y="720.8"/><text x="-61.3" y="727.2">16</text>
<use href="#s" x="-57.6" y="729.3"/><text x="-53.1" y="735.7">17</text>
<use href="#s" x="-49.7" y="738.1"/><text x="-45.2" y="744.5">18</text>
<use href="#s" x="-42.0" y="747.2"/><text x="-37.5" y="753.6">19</text>
<use href="#s" x="-34.7" y="756.5"/><text x="-30.2" y="762.9">20</text>
<use href="#s" x="-27.6" y="766.0"/><text x="-23.1" y="772.4">21</text>
<use href="#s" x="-20.8" y="775.8"/><text x="-16.3" y="782.2">22</text>
<use href="#s" x="-14.4" y="785.7"/><text x="-9.9" y="792.1">23</text>
<use href="#s" x="-8.2" y="795.9"/><text x="-3.7" y="802.3">24</text>
<use href="#s" x="-2.4" y="806.2"/><text x="2.1" y="812.6">25</text>
<use href="#s" x="3.0" y="816.7"/><text x="7.5" y="823.1">26</text>
<use href="#s" x="8.2" y="827.4"/><text x="12.7" y="833.8">27</text>
<use href="#s" x="13.0" y="838.3"/><text x="17.5" y="844.7">28</text>
<use href="#s" x="17.4" y="849.3"/><text x="21.9" y="855.7">29</text>
<use href="#s" x="21.6" y="860.4"/><text x="26.1" y="866.8">30</text>
<use href="#s" x="-79.6" y="736.0"/><text x="-75.1" y="742.4">15</text>
<use href="#s" x="-71.3" y="744.7"/><text x="-66.8" y="751.1">16</text>
<use href="#s" x="-63.3" y="753.7"/><text x="-58.8" y="760.1">17</text>
<use href="#s" x="-55.7" y="762.9"/><text x="-51.2" y="769.3">18</text>
<use href="#s" x="-48.3" y="772.4"/><text x="-43.8" y="778.8">19</text>
<use href="#s" x="-41.3" y="782.2"/><text x="-36.8" y="788.6">20</text>
<use href="#s" x="-34.6" y="792.1"/><text x="-30.1" y="798.5">21</text>
<use href="#s" x="-28.3" y="802.3"/><text x="-23.8" y="808.7">22</text>
<use href="#s" x="-22.3" y="812.7"/><text x="-17.8" y="819.1">23</text>
<use href="#s" x="-16.7" y="823.3"/><text x="-12.2" y="829.7">24</text>
<use href="#s" x="-11.4" y="834.1"/><text x="-6.9" y="840.5">25</text>
<use href="#s" x="-6.5" y="845.1"/><text x="-2.0" y="851.5">26</text>
<use href="#s" x="-2.0" y="856.2"/><text x="2.5" y="862.6">27</text>
<use href="#s" x="2.2" y="867.4"/><text x="6.7" y="873.8">28</text>
<use href="#s" x="-94.0" y="750.7"/><text x="-89.5" y="757.1">15</text>
<use href="#s" x="-86.3" y="758.9"/><text x="-81.8" y="765.3">16</text>
<use href="#s" x="-78.8" y="767.3"/><text x="-74.3" y="773.7">17</text>
<use href="#s" x="-71.7" y="776.0"/><text x="-67.2" y="782.4">18</text>
<use href="#s" x="-64.8" y="784.9"/><text x="-60.3" y="791.3">19</text>
<use href="#s" x="-58.3" y="794.1"/><text x="-53.8" y="800.5">20</text>
<use href="#s" x="-52.0" y="803.5"/><text x="-47.5" y="809.9">21</text>
<use href="#s" x="-46.1" y="813.0"/><text x="-41.6" y="819.4">22</text>
<use href="#s" x="-40.5" y="822.8"/><text x="-36.0" y="829.2">23</text>
<use href="#s" x="-35.3" y="832.8"/><text x="-30.8" y="839.2">24</text>
<use href="#s" x="-30.3" y="842.9"/><text x="-25.8" y="849.3">25</text>
<use href="#s" x="-25.8" y="853.2"/><text x="-21.3" y="859.6">26</text>
<use href="#s" x="-21.5" y="863.6"/><text x="-17.0" y="870.0">27</text>
<use href="#s" x="-109.3" y="785.8"/><text x="-104.8" y="792.2">4</text>
<use href="#s" x="-99.3" y="795.7"/><text x="-94.8" y="802.1">5</text>
<use href="#s" x="-89.8" y="806.1"/><text x="-85.3" y="812.5">6</text>
<use href="#s" x="-466.5" y="530.3"/><text x="-462.0" y="536.7">1</text>
<use href="#s" x="-450.9" y="528.1"/><text x="-446.4" y="534.5">2</text>
<use href="#s" x="-435.3" y="526.4"/><text x="-430.8" y="532.8">3</text>
<use href="#s" x="-419.7" y="525.2"/><text x="-415.2" y="531.6">4</text>
<use href="#s" x="-404.0" y="524.5"/><text x="-399.5" y="530.9">5</text>
<use href="#s" x="-388.3" y="524.3"/><text x="-383.8" y="530.7">6</text>
<use href="#s" x="-372.6" y="524.7"/><text x="-368.1" y="531.1">7</text>
<use href="#s" x="-357.0" y="525.5"/><text x="-352.5" y="531.9">8</text>
<use href="#s" x="-341.3" y="526.8"/><text x="-336.8" y="533.2">9</text>
<use href="#s" x="-325.8" y="528.7"/><text x="-321.3" y="535.1">10</text>
<use href="#s" x="-310.2" y="531.0"/><text x="-305.7" y="537.4">11</text>
<use href="#s" x="-294.8" y="533.8"/><text x="-290.3" y="540.2">12</text>
<use href="#s" x="-279.5" y="537.1"/><text x="-275.0" y="543.5">13</text>
<use href="#s" x="-264.3" y="540.9"/><text x="-259.8" y="547.3">14</text>
<use href="#s" x="-249.2" y="545.2"/><text x="-244.7" y="551.6">15</text>
<use href="#s" x="-473.6" y="559.1"/><text x="-469.1" y="565.5">1</text>
<use href="#s" x="-459.2" y="556.7"/><text x="-454.7" y="563.1">2</text>
<use href="#s" x="-444.7" y="554.7"/><text x="-440.2" y="561.1">3</text>
<use href="#s" x="-430.2" y="553.2"/><text x="-425.7" y="559.6">4</text>
<use href="#s" x="-415.6" y="552.2"/><text x="-411.1" y="558.6">5</text>
<use href="#s" x="-401.0" y="551.6"/><text x="-396.5" y="558.0">6</text>
<use href="#s" x="-386.4" y="551.5"/><text x="-381.9" y="557.9">7</text>
<use href="#s" x="-371.8" y="551.8"/><text x="-367.3" y="558.2">8</text>
<use href="#s" x="-357.2" y="552.7"/><text x="-352.7" y="559.1">9</text>
<use href="#s" x="-342.6" y="553.9"/><text x="-338.1" y="560.3">10</text>
<use href="#s" x="-328.1" y="555.6"/><text x="-323.6" y="562.0">11</text>
<use href="#s" x="-313.6" y="557.8"/><text x="-309.1" y="564.2">12</text>
<use href="#s" x="-299.3" y="560.5"/><text x="-294.8" y="566.9">13</text>
<use href="#s" x="-285.0" y="563.6"/><text x="-280.5" y="570.0">14</text>
<use href="#s" x="-270.8" y="567.1"/><text x="-266.3" y="573.5">15</text>
<use href="#s" x="-256.7" y="571.1"/><text x="-252.2" y="577.5">16</text>
<use href="#s" x="106.7" y="861.2"/><text x="111.2" y="867.6">1</text>
<use href="#s" x="111.7" y="873.9"/><text x="116.2" y="880.3">2</text>
<use href="#s" x="116.4" y="886.7"/><text x="120.9" y="893.1">3</text>
<use href="#s" x="120.7" y="899.7"/><text x="125.2" y="906.1">4</text>
<use href="#s" x="124.8" y="912.7"/><text x="129.3" y="919.1">5</text>
<use href="#s" x="128.5" y="925.9"/><text x="133.0" y="932.3">6</text>
<use href="#s" x="131.8" y="939.1"/><text x="136.3" y="945.5">7</text>
<use href="#s" x="134.9" y="952.5"/><text x="139.4" y="958.9">8</text>
<use href="#s" x="137.6" y="965.9"/><text x="142.1" y="972.3">9</text>
<use href="#s" x="140.0" y="979.3"/><text x="144.5" y="985.7">10</text>
<use href="#s" x="142.0" y="992.8"/><text x="146.5" y="999.2">11</text>
<use href="#s" x="143.7" y="1006.4"/><text x="148.2" y="1012.8">12</text>
<use href="#s" x="145.0" y="1020.0"/><text x="149.5" y="1026.4">13</text>
<use href="#s" x="146.0" y="1033.6"/><text x="150.5" y="1040.0">14</text>
<use href="#s" x="80.2" y="873.4"/><text x="84.7" y="879.8">1</text>
<use href="#s" x="85.2" y="885.5"/><text x="89.7" y="891.9">2</text>
<use href="#s" x="89.9" y="897.7"/><text x="94.4" y="904.1">3</text>
<use href="#s" x="94.3" y="910.0"/><text x="98.8" y="916.4">4</text>
<use href="#s" x="98.4" y="922.4"/><text x="102.9" y="928.8">5</text>
<use href="#s" x="102.2" y="934.9"/><text x="106.7" y="941.3">6</text>
<use href="#s" x="105.7" y="947.5"/><text x="110.2" y="953.9">7</text>
<use href="#s" x="108.8" y="960.2"/><text x="113.3" y="966.6">8</text>
<use href="#s" x="111.6" y="973.0"/><text x="116.1" y="979.4">9</text>
<use href="#s" x="114.1" y="985.8"/><text x="118.6" y="992.2">10</text>
<use href="#s" x="116.3" y="998.7"/><text x="120.8" y="1005.1">11</text>
<use href="#s" x="118.1" y="1011.6"/><text x="122.6" y="1018.0">12</text>
<use href="#s" x="119.7" y="1024.6"/><text x="124.2" y="1031.0">13</text>
<use href="#s" x="120.9" y="1037.6"/><text x="125.4" y="1044.0">14</text>
<use href="#s" x="121.7" y="1050.7"/><text x="126.2" y="1057.1">15</text>
<use href="#s" x="122.3" y="1063.7"/><text x="126.8" y="1070.1">16</text>
<use href="#s" x="-316.7" y="685.3"/><text x="-312.2" y="691.7">1</text>
<use href="#s" x="-303.9" y="689.1"/><text x="-299.4" y="695.5">2</text>
<use href="#s" x="-291.3" y="693.4"/><text x="-286.8" y="699.8">3</text>
<use href="#s" x="-278.7" y="698.0"/><text x="-274.2" y="704.4">4</text>
<use href="#s" x="-266.3" y="703.0"/><text x="-261.8" y="709.4">5</text>
<use href="#s" x="-254.0" y="708.4"/><text x="-249.5" y="714.8">6</text>
<use href="#s" x="-242.0" y="714.1"/><text x="-237.5" y="720.5">7</text>
<use href="#s" x="-230.1" y="720.2"/><text x="-225.6" y="726.6">8</text>
<use href="#s" x="-218.4" y="726.7"/><text x="-213.9" y="733.1">9</text>
<use href="#s" x="-206.8" y="733.5"/><text x="-202.3" y="739.9">10</text>
<use href="#s" x="-195.5" y="740.6"/><text x="-191.0" y="747.0">11</text>
<use href="#s" x="-184.5" y="748.1"/><text x="-180.0" y="754.5">12</text>
<use href="#s" x="-173.6" y="755.9"/><text x="-169.1" y="762.3">13</text>
<use href="#s" x="-163.0" y="764.1"/><text x="-158.5" y="770.5">14</text>
<use href="#s" x="-314.2" y="706.7"/><text x="-309.7" y="713.1">2</text>
<use href="#s" x="-301.7" y="710.6"/><text x="-297.2" y="717.0">3</text>
<use href="#s" x="-289.3" y="714.9"/><text x="-284.8" y="721.3">4</text>
<use href="#s" x="-277.1" y="719.6"/><text x="-272.6" y="726.0">5</text>
<use href="#s" x="-265.0" y="724.7"/><text x="-260.5" y="731.1">6</text>
<use href="#s" x="-253.0" y="730.1"/><text x="-248.5" y="736.5">7</text>
<use href="#s" x="-241.3" y="735.9"/><text x="-236.8" y="742.3">8</text>
<use href="#s" x="-229.7" y="742.1"/><text x="-225.2" y="748.5">9</text>
<use href="#s" x="-218.3" y="748.6"/><text x="-213.8" y="755.0">10</text>
<use href="#s" x="-207.2" y="755.5"/><text x="-202.7" y="761.9">11</text>
<use href="#s" x="-196.2" y="762.7"/><text x="-191.7" y="769.1">12</text>
<use href="#s" x="-185.5" y="770.3"/><text x="-181.0" y="776.7">13</text>
<use href="#s" x="-175.0" y="778.2"/><text x="-170.5" y="784.6">14</text>
<use href="#s" x="-332.4" y="719.9"/><text x="-327.9" y="726.3">6</text>
<use href="#s" x="-319.8" y="723.5"/><text x="-315.3" y="729.9">7</text>
<use href="#s" x="-307.3" y="727.6"/><text x="-302.8" y="734.0">8</text>
<use href="#s" x="-295.0" y="732.0"/><text x="-290.5" y="738.4">9</text>
<use href="#s" x="-282.8" y="736.9"/><text x="-278.3" y="743.3">10</text>
<use href="#s" x="-270.8" y="742.1"/><text x="-266.3" y="748.5">11</text>
<use href="#s" x="-259.0" y="747.8"/><text x="-254.5" y="754.2">12</text>
<use href="#s" x="-247.3" y="753.8"/><text x="-242.8" y="760.2">13</text>
<use href="#s" x="-235.9" y="760.2"/><text x="-231.4" y="766.6">14</text>
<use href="#s" x="-224.6" y="766.9"/><text x="-220.1" y="773.3">15</text>
<use href="#s" x="-213.6" y="774.0"/><text x="-209.1" y="780.4">16</text>
<use href="#s" x="-202.8" y="781.5"/><text x="-198.3" y="787.9">17</text>
<use href="#s" x="-192.3" y="789.3"/><text x="-187.8" y="795.7">18</text>
<use href="#s" x="-182.0" y="797.4"/><text x="-177.5" y="803.8">19</text>
<use href="#s" x="-331.9" y="740.5"/><text x="-327.4" y="746.9">10</text>
<use href="#s" x="-319.1" y="744.5"/><text x="-314.6" y="750.9">11</text>
<use href="#s" x="-306.4" y="748.9"/><text x="-301.9" y="755.3">12</text>
<use href="#s" x="-293.9" y="753.8"/><text x="-289.4" y="760.2">13</text>
<use href="#s" x="-281.5" y="759.1"/><text x="-277.0" y="765.5">14</text>
<use href="#s" x="-269.4" y="764.9"/><text x="-264.9" y="771.3">15</text>
<use href="#s" x="-257.4" y="771.0"/><text x="-252.9" y="777.4">16</text>
<use href="#s" x="-245.7" y="777.6"/><text x="-241.2" y="784.0">17</text>
<use href="#s" x="-234.2" y="784.6"/><text x="-229.7" y="791.0">18</text>
<use href="#s" x="-223.0" y="791.9"/><text x="-218.5" y="798.3">19</text>
<use href="#s" x="-212.0" y="799.7"/><text x="-207.5" y="806.1">20</text>
<use href="#s" x="-201.3" y="807.8"/><text x="-196.8" y="814.2">21</text>
<use href="#s" x="-190.9" y="816.3"/><text x="-186.4" y="822.7">22</text>
<use href="#s" x="-344.0" y="755.9"/><text x="-339.5" y="762.3">10</text>
<use href="#s" x="-332.1" y="759.4"/><text x="-327.6" y="765.8">11</text>
<use href="#s" x="-320.4" y="763.3"/><text x="-315.9" y="769.7">12</text>
<use href="#s" x="-308.8" y="767.6"/><text x="-304.3" y="774.0">13</text>
<use href="#s" x="-297.3" y="772.4"/><text x="-292.8" y="778.8">14</text>
<use href="#s" x="-286.1" y="777.4"/><text x="-281.6" y="783.8">15</text>
<use href="#s" x="-274.9" y="782.9"/><text x="-270.4" y="789.3">16</text>
<use href="#s" x="-264.0" y="788.8"/><text x="-259.5" y="795.2">17</text>
<use href="#s" x="-253.3" y="795.0"/><text x="-248.8" y="801.4">18</text>
<use href="#s" x="-242.8" y="801.5"/><text x="-238.3" y="807.9">19</text>
<use href="#s" x="-232.6" y="808.4"/><text x="-228.1" y="814.8">20</text>
<use href="#s" x="-222.5" y="815.7"/><text x="-218.0" y="822.1">21</text>
<use href="#s" x="-212.8" y="823.3"/><text x="-208.3" y="829.7">22</text>
<use href="#s" x="-203.2" y="831.2"/><text x="-198.7" y="837.6">23</text>
<use href="#s" x="-338.4" y="779.5"/><text x="-333.9" y="785.9">9</text>
<use href="#s" x="-327.3" y="783.1"/><text x="-322.8" y="789.5">10</text>
<use href="#s" x="-316.4" y="787.1"/><text x="-311.9" y="793.5">11</text>
<use href="#s" x="-305.6" y="791.4"/><text x="-301.1" y="797.8">12</text>
<use href="#s" x="-294.9" y="796.2"/><text x="-290.4" y="802.6">13</text>
<use href="#s" x="-284.4" y="801.2"/><text x="-279.9" y="807.6">14</text>
<use href="#s" x="-274.1" y="806.6"/><text x="-269.6" y="813.0">15</text>
<use href="#s" x="-264.0" y="812.4"/><text x="-259.5" y="818.8">16</text>
<use href="#s" x="-254.1" y="818.5"/><text x="-249.6" y="824.9">17</text>
<use href="#s" x="-244.4" y="824.9"/><text x="-239.9" y="831.3">18</text>
<use href="#s" x="-234.9" y="831.6"/><text x="-230.4" y="838.0">19</text>
<use href="#s" x="-225.6" y="838.7"/><text x="-221.1" y="845.1">20</text>
<use href="#s" x="-216.6" y="846.1"/><text x="-212.1" y="852.5">21</text>
<use href="#s" x="-341.8" y="798.2"/><text x="-337.3" y="804.6">18</text>
<use href="#s" x="-330.6" y="802.0"/><text x="-326.1" y="808.4">19</text>
<use href="#s" x="-319.5" y="806.1"/><text x="-315.0" y="812.5">20</text>
<use href="#s" x="-308.6" y="810.6"/><text x="-304.1" y="817.0">21</text>
<use href="#s" x="-297.9" y="815.6"/><text x="-293.4" y="822.0">22</text>
<use href="#s" x="-287.4" y="820.9"/><text x="-282.9" y="827.3">23</text>
<use href="#s" x="-277.0" y="826.5"/><text x="-272.5" y="832.9">24</text>
<use href="#s" x="-266.9" y="832.6"/><text x="-262.4" y="839.0">25</text>
<use href="#s" x="-257.0" y="839.0"/><text x="-252.5" y="845.4">26</text>
<use href="#s" x="-247.3" y="845.8"/><text x="-242.8" y="852.2">27</text>
<use href="#s" x="-237.9" y="852.9"/><text x="-233.4" y="859.3">28</text>
<use href="#s" x="-228.8" y="860.3"/><text x="-224.3" y="866.7">29</text>
<use href="#s" x="-350.7" y="814.4"/><text x="-346.2" y="820.8">18</text>
<use href="#s" x="-339.9" y="818.0"/><text x="-335.4" y="824.4">19</text>
<use href="#s" x="-329.2" y="822.0"/><text x="-324.7" y="828.4">20</text>
<use href="#s" x="-318.7" y="826.4"/><text x="-314.2" y="832.8">21</text>
<use href="#s" x="-308.3" y="831.2"/><text x="-303.8" y="837.6">22</text>
<use href="#s" x="-298.2" y="836.3"/><text x="-293.7" y="842.7">23</text>
<use href="#s" x="-288.2" y="841.9"/><text x="-283.7" y="848.3">24</text>
<use href="#s" x="-278.5" y="847.8"/><text x="-274.0" y="854.2">25</text>
<use href="#s" x="-268.9" y="854.0"/><text x="-264.4" y="860.4">26</text>
<use href="#s" x="-259.6" y="860.6"/><text x="-255.1" y="867.0">27</text>
<use href="#s" x="-250.6" y="867.5"/><text x="-246.1" y="873.9">28</text>
<use href="#s" x="-241.8" y="874.8"/><text x="-237.3" y="881.2">29</text>
<use href="#s" x="-349.6" y="834.9"/><text x="-345.1" y="841.3">17</text>
<use href="#s" x="-339.3" y="838.7"/><text x="-334.8" y="845.1">18</text>
<use href="#s" x="-329.1" y="842.8"/><text x="-324.6" y="849.2">19</text>
<use href="#s" x="-319.1" y="847.3"/><text x="-314.6" y="853.7">20</text>
<use href="#s" x="-309.2" y="852.2"/><text x="-304.7" y="858.6">21</text>
<use href="#s" x="-299.6" y="857.5"/><text x="-295.1" y="863.9">22</text>
<use href="#s" x="-290.1" y="863.1"/><text x="-285.6" y="869.5">23</text>
<use href="#s" x="-280.9" y="869.1"/><text x="-276.4" y="875.5">24</text>
<use href="#s" x="-271.9" y="875.5"/><text x="-267.4" y="881.9">25</text>
<use href="#s" x="-263.2" y="882.1"/><text x="-258.7" y="888.5">26</text>
<use href="#s" x="-254.7" y="889.1"/><text x="-250.2" y="895.5">27</text>
<use href="#s" x="-360.0" y="853.1"/><text x="-355.5" y="859.5">15</text>
<use href="#s" x="-349.9" y="856.5"/><text x="-345.4" y="862.9">16</text>
<use href="#s" x="-339.9" y="860.3"/><text x="-335.4" y="866.7">17</text>
<use href="#s" x="-330.1" y="864.5"/><text x="-325.6" y="870.9">18</text>
<use href="#s" x="-320.5" y="869.1"/><text x="-316.0" y="875.5">19</text>
<use href="#s" x="-311.1" y="874.0"/><text x="-306.6" y="880.4">20</text>
<use href="#s" x="-301.9" y="879.3"/><text x="-297.4" y="885.7">21</text>
<use href="#s" x="-292.9" y="885.0"/><text x="-288.4" y="891.4">22</text>
<use href="#s" x="-284.1" y="891.0"/><text x="-279.6" y="897.4">23</text>
<use href="#s" x="-275.5" y="897.4"/><text x="-271.0" y="903.8">24</text>
<use href="#s" x="-267.2" y="904.1"/><text x="-262.7" y="910.5">25</text>
<use href="#s" x="-359.4" y="873.9"/><text x="-354.9" y="880.3">15</text>
<use href="#s" x="-349.8" y="877.3"/><text x="-345.3" y="883.7">16</text>
<use href="#s" x="-340.5" y="881.2"/><text x="-336.0" y="887.6">17</text>
<use href="#s" x="-331.2" y="885.4"/><text x="-326.7" y="891.8">18</text>
<use href="#s" x="-322.2" y="890.0"/><text x="-317.7" y="896.4">19</text>
<use href="#s" x="-313.3" y="895.0"/><text x="-308.8" y="901.4">20</text>
<use href="#s" x="-304.7" y="900.3"/><text x="-300.2" y="906.7">21</text>
<use href="#s" x="-296.2" y="906.0"/><text x="-291.7" y="912.4">22</text>
<use href="#s" x="-288.0" y="912.0"/><text x="-283.5" y="918.4">23</text>
<use href="#s" x="-280.1" y="918.4"/><text x="-275.6" y="924.8">24</text>
<use href="#s" x="-359.8" y="894.8"/><text x="-355.3" y="901.2">14</text>
<use href="#s" x="-350.8" y="898.3"/><text x="-346.3" y="904.7">15</text>
<use href="#s" x="-342.1" y="902.3"/><text x="-337.6" y="908.7">16</text>
<use href="#s" x="-333.4" y="906.6"/><text x="-328.9" y="913.0">17</text>
<use href="#s" x="-325.0" y="911.2"/><text x="-320.5" y="917.6">18</text>
<use href="#s" x="-316.8" y="916.2"/><text x="-312.3" y="922.6">19</text>
<use href="#s" x="-308.8" y="921.6"/><text x="-304.3" y="928.0">20</text>
<use href="#s" x="-301.0" y="927.2"/><text x="-296.5" y="933.6">21</text>
<use href="#s" x="-293.5" y="933.2"/><text x="-289.0" y="939.6">22</text>
<use href="#s" x="-369.8" y="911.6"/><text x="-365.3" y="918.0">11</text>
<use href="#s" x="-361.0" y="914.9"/><text x="-356.5" y="921.3">12</text>
<use href="#s" x="-352.3" y="918.6"/><text x="-347.8" y="925.0">13</text>
<use href="#s" x="-343.9" y="922.6"/><text x="-339.4" y="929.0">14</text>
<use href="#s" x="-335.6" y="927.1"/><text x="-331.1" y="933.5">15</text>
<use href="#s" x="-327.5" y="931.9"/><text x="-323.0" y="938.3">16</text>
<use href="#s" x="-319.6" y="937.0"/><text x="-315.1" y="943.4">17</text>
<use href="#s" x="-312.0" y="942.5"/><text x="-307.5" y="948.9">18</text>
<use href="#s" x="-123.5" y="799.7"/><text x="-119.0" y="806.1">15</text>
<use href="#s" x="-114.3" y="809.4"/><text x="-109.8" y="815.8">16</text>
<use href="#s" x="-105.4" y="819.3"/><text x="-100.9" y="825.7">17</text>
<use href="#s" x="-96.9" y="829.5"/><text x="-92.4" y="835.9">18</text>
<use href="#s" x="-88.6" y="840.0"/><text x="-84.1" y="846.4">19</text>
<use href="#s" x="-80.7" y="850.7"/><text x="-76.2" y="857.1">20</text>
<use href="#s" x="-73.1" y="861.6"/><text x="-68.6" y="868.0">21</text>
<use href="#s" x="-65.8" y="872.8"/><text x="-61.3" y="879.2">22</text>
<use href="#s" x="-58.9" y="884.2"/><text x="-54.4" y="890.6">23</text>
<use href="#s" x="-52.3" y="895.7"/><text x="-47.8" y="902.1">24</text>
<use href="#s" x="-46.1" y="907.5"/><text x="-41.6" y="913.9">25</text>
<use href="#s" x="-40.2" y="919.5"/><text x="-35.7" y="925.9">26</text>
<use href="#s" x="-34.7" y="931.6"/><text x="-30.2" y="938.0">27</text>
<use href="#s" x="-29.5" y="943.9"/><text x="-25.0" y="950.3">28</text>
<use href="#s" x="-137.5" y="813.0"/><text x="-133.0" y="819.4">15</text>
<use href="#s" x="-128.5" y="822.5"/><text x="-124.0" y="828.9">16</text>
<use href="#s" x="-119.8" y="832.3"/><text x="-115.3" y="838.7">17</text>
<use href="#s" x="-111.4" y="842.4"/><text x="-106.9" y="848.8">18</text>
<use href="#s" x="-103.3" y="852.7"/><text x="-98.8" y="859.1">19</text>
<use href="#s" x="-95.5" y="863.3"/><text x="-91.0" y="869.7">20</text>
<use href="#s" x="-88.1" y="874.1"/><text x="-83.6" y="880.5">21</text>
<use href="#s" x="-81.0" y="885.1"/><text x="-76.5" y="891.5">22</text>
<use href="#s" x="-74.2" y="896.3"/><text x="-69.7" y="902.7">23</text>
<use href="#s" x="-67.8" y="907.7"/><text x="-63.3" y="914.1">24</text>
<use href="#s" x="-61.8" y="919.4"/><text x="-57.3" y="925.8">25</text>
<use href="#s" x="-56.1" y="931.2"/><text x="-51.6" y="937.6">26</text>
<use href="#s" x="-50.8" y="943.2"/><text x="-46.3" y="949.6">27</text>
<use href="#s" x="-154.5" y="822.9"/><text x="-150.0" y="829.3">20</text>
<use href="#s" x="-145.3" y="832.3"/><text x="-140.8" y="838.7">21</text>
<use href="#s" x="-136.5" y="841.9"/><text x="-132.0" y="848.3">22</text>
<use href="#s" x="-128.1" y="851.9"/><text x="-123.6" y="858.3">23</text>
<use href="#s" x="-119.9" y="862.1"/><text x="-115.4" y="868.5">24</text>
<use href="#s" x="-112.1" y="872.5"/><text x="-107.6" y="878.9">25</text>
<use href="#s" x="-104.6" y="883.2"/><text x="-100.1" y="889.6">26</text>
<use href="#s" x="-97.4" y="894.2"/><text x="-92.9" y="900.6">27</text>
<use href="#s" x="-90.6" y="905.3"/><text x="-86.1" y="911.7">28</text>
<use href="#s" x="-84.2" y="916.7"/><text x="-79.7" y="923.1">29</text>
<use href="#s" x="-78.2" y="928.3"/><text x="-73.7" y="934.7">30</text>
<use href="#s" x="-72.5" y="940.1"/><text x="-68.0" y="946.5">31</text>
<use href="#s" x="-67.2" y="952.0"/><text x="-62.7" y="958.4">32</text>
<use href="#s" x="-62.3" y="964.2"/><text x="-57.8" y="970.6">33</text>
<use href="#s" x="-173.0" y="833.1"/><text x="-168.5" y="839.5">23</text>
<use href="#s" x="-163.6" y="842.5"/><text x="-159.1" y="848.9">24</text>
<use href="#s" x="-154.4" y="852.2"/><text x="-149.9" y="858.6">25</text>
<use href="#s" x="-145.6" y="862.2"/><text x="-141.1" y="868.6">26</text>
<use href="#s" x="-137.2" y="872.5"/><text x="-132.7" y="878.9">27</text>
<use href="#s" x="-129.1" y="883.1"/><text x="-124.6" y="889.5">28</text>
<use href="#s" x="-121.3" y="894.0"/><text x="-116.8" y="900.4">29</text>
<use href="#s" x="-114.0" y="905.2"/><text x="-109.5" y="911.6">30</text>
<use href="#s" x="-107.1" y="916.6"/><text x="-102.6" y="923.0">31</text>
<use href="#s" x="-100.5" y="928.2"/><text x="-96.0" y="934.6">32</text>
<use href="#s" x="-94.4" y="940.0"/><text x="-89.9" y="946.4">33</text>
<use href="#s" x="-88.6" y="952.1"/><text x="-84.1" y="958.5">34</text>
<use href="#s" x="-83.3" y="964.3"/><text x="-78.8" y="970.7">35</text>
<use href="#s" x="-186.8" y="846.6"/><text x="-182.3" y="853.0">24</text>
<use href="#s" x="-178.0" y="855.2"/><text x="-173.5" y="861.6">25</text>
<use href="#s" x="-169.4" y="864.1"/><text x="-164.9" y="870.5">26</text>
<use href="#s" x="-161.1" y="873.3"/><text x="-156.6" y="879.7">27</text>
<use href="#s" x="-153.1" y="882.7"/><text x="-148.6" y="889.1">28</text>
<use href="#s" x="-145.4" y="892.4"/><text x="-140.9" y="898.8">29</text>
<use href="#s" x="-138.1" y="902.4"/><text x="-133.6" y="908.8">30</text>
<use href="#s" x="-131.1" y="912.6"/><text x="-126.6" y="919.0">31</text>
<use href="#s" x="-124.5" y="923.0"/><text x="-120.0" y="929.4">32</text>
<use href="#s" x="-118.2" y="933.7"/><text x="-113.7" y="940.1">33</text>
<use href="#s" x="-112.3" y="944.5"/><text x="-107.8" y="950.9">34</text>
<use href="#s" x="-106.7" y="955.6"/><text x="-102.2" y="962.0">35</text>
<use href="#s" x="-101.5" y="966.8"/><text x="-97.0" y="973.2">36</text>
<use href="#s" x="-96.8" y="978.2"/><text x="-92.3" y="984.6">37</text>
<use href="#s" x="-200.2" y="861.5"/><text x="-195.7" y="867.9">22</text>
<use href="#s" x="-191.9" y="869.6"/><text x="-187.4" y="876.0">23</text>
<use href="#s" x="-183.9" y="878.1"/><text x="-179.4" y="884.5">24</text>
<use href="#s" x="-176.2" y="886.8"/><text x="-171.7" y="893.2">25</text>
<use href="#s" x="-168.8" y="895.7"/><text x="-164.3" y="902.1">26</text>
<use href="#s" x="-161.7" y="904.9"/><text x="-157.2" y="911.3">27</text>
<use href="#s" x="-154.9" y="914.3"/><text x="-150.4" y="920.7">28</text>
<use href="#s" x="-148.4" y="924.0"/><text x="-143.9" y="930.4">29</text>
<use href="#s" x="-142.2" y="933.9"/><text x="-137.7" y="940.3">30</text>
<use href="#s" x="-136.4" y="943.9"/><text x="-131.9" y="950.3">31</text>
<use href="#s" x="-130.9" y="954.2"/><text x="-126.4" y="960.6">32</text>
<use href="#s" x="-125.8" y="964.6"/><text x="-121.3" y="971.0">33</text>
<use href="#s" x="-121.0" y="975.2"/><text x="-116.5" y="981.6">34</text>
<use href="#s" x="-212.7" y="875.4"/><text x="-208.2" y="881.8">30</text>
<use href="#s" x="-204.4" y="883.6"/><text x="-199.9" y="890.0">31</text>
<use href="#s" x="-196.4" y="892.2"/><text x="-191.9" y="898.6">32</text>
<use href="#s" x="-188.6" y="901.0"/><text x="-184.1" y="907.4">33</text>
<use href="#s" x="-181.2" y="910.1"/><text x="-176.7" y="916.5">34</text>
<use href="#s" x="-174.1" y="919.5"/><text x="-169.6" y="925.9">35</text>
<use href="#s" x="-167.4" y="929.1"/><text x="-162.9" y="935.5">36</text>
<use href="#s" x="-161.0" y="938.9"/><text x="-156.5" y="945.3">37</text>
<use href="#s" x="-155.0" y="949.0"/><text x="-150.5" y="955.4">38</text>
<use href="#s" x="-149.3" y="959.3"/><text x="-144.8" y="965.7">39</text>
<use href="#s" x="-144.0" y="969.8"/><text x="-139.5" y="976.2">40</text>
<use href="#s" x="-139.1" y="980.4"/><text x="-134.6" y="986.8">41</text>
<use href="#s" x="-226.8" y="889.0"/><text x="-222.3" y="895.4">30</text>
<use href="#s" x="-218.6" y="897.0"/><text x="-214.1" y="903.4">31</text>
<use href="#s" x="-210.6" y="905.2"/><text x="-206.1" y="911.6">32</text>
<use href="#s" x="-203.0" y="913.8"/><text x="-198.5" y="920.2">33</text>
<use href="#s" x="-195.8" y="922.6"/><text x="-191.3" y="929.0">34</text>
<use href="#s" x="-188.8" y="931.7"/><text x="-184.3" y="938.1">35</text>
<use href="#s" x="-182.2" y="941.0"/><text x="-177.7" y="947.4">36</text>
<use href="#s" x="-176.0" y="950.6"/><text x="-171.5" y="957.0">37</text>
<use href="#s" x="-170.1" y="960.3"/><text x="-165.6" y="966.7">38</text>
<use href="#s" x="-164.6" y="970.3"/><text x="-160.1" y="976.7">39</text>
<use href="#s" x="-159.4" y="980.6"/><text x="-154.9" y="987.0">40</text>
<use href="#s" x="-154.6" y="990.9"/><text x="-150.1" y="997.3">41</text>
<use href="#s" x="-239.0" y="903.3"/><text x="-234.5" y="909.7">28</text>
<use href="#s" x="-231.1" y="911.0"/><text x="-226.6" y="917.4">29</text>
<use href="#s" x="-223.5" y="919.0"/><text x="-219.0" y="925.4">30</text>
<use href="#s" x="-216.3" y="927.3"/><text x="-211.8" y="933.7">31</text>
<use href="#s" x="-209.3" y="935.9"/><text x="-204.8" y="942.3">32</text>
<use href="#s" x="-202.7" y="944.7"/><text x="-198.2" y="951.1">33</text>
<use href="#s" x="-196.5" y="953.7"/><text x="-192.0" y="960.1">34</text>
<use href="#s" x="-190.5" y="963.0"/><text x="-186.0" y="969.4">35</text>
<use href="#s" x="-185.0" y="972.5"/><text x="-180.5" y="978.9">36</text>
<use href="#s" x="-179.8" y="982.2"/><text x="-175.3" y="988.6">37</text>
<use href="#s" x="-175.0" y="992.1"/><text x="-170.5" y="998.5">38</text>
<use href="#s" x="-252.4" y="917.5"/><text x="-247.9" y="923.9">26</text>
<use href="#s" x="-244.8" y="925.0"/><text x="-240.3" y="931.4">27</text>
<use href="#s" x="-237.5" y="932.9"/><text x="-233.0" y="939.3">28</text>
<use href="#s" x="-230.5" y="941.0"/><text x="-226.0" y="947.4">29</text>
<use href="#s" x="-223.9" y="949.5"/><text x="-219.4" y="955.9">30</text>
<use href="#s" x="-217.6" y="958.1"/><text x="-213.1" y="964.5">31</text>
<use href="#s" x="-211.6" y="967.1"/><text x="-207.1" y="973.5">32</text>
<use href="#s" x="-206.0" y="976.2"/><text x="-201.5" y="982.6">33</text>
<use href="#s" x="-200.8" y="985.6"/><text x="-196.3" y="992.0">34</text>
<use href="#s" x="-195.9" y="995.2"/><text x="-191.4" y="1001.6">35</text>
<use href="#s" x="-191.4" y="1004.9"/><text x="-186.9" y="1011.3">36</text>
<use href="#s" x="-265.3" y="931.0"/><text x="-260.8" y="937.4">25</text>
<use href="#s" x="-258.1" y="938.3"/><text x="-253.6" y="944.7">26</text>
<use href="#s" x="-251.2" y="945.8"/><text x="-246.7" y="952.2">27</text>
<use href="#s" x="-244.6" y="953.7"/><text x="-240.1" y="960.1">28</text>
<use href="#s" x="-238.3" y="961.8"/><text x="-233.8" y="968.2">29</text>
<use href="#s" x="-232.4" y="970.1"/><text x="-227.9" y="976.5">30</text>
<use href="#s" x="-226.9" y="978.7"/><text x="-222.4" y="985.1">31</text>
<use href="#s" x="-221.6" y="987.5"/><text x="-217.1" y="993.9">32</text>
<use href="#s" x="-216.8" y="996.5"/><text x="-212.3" y="1002.9">33</text>
<use href="#s" x="-212.3" y="1005.6"/><text x="-207.8" y="1012.0">34</text>
<use href="#s" x="-277.3" y="945.6"/><text x="-272.8" y="952.0">23</text>
<use href="#s" x="-270.7" y="952.5"/><text x="-266.2" y="958.9">24</text>
<use href="#s" x="-264.3" y="959.7"/><text x="-259.8" y="966.1">25</text>
<use href="#s" x="-258.3" y="967.2"/><text x="-253.8" y="973.6">26</text>
<use href="#s" x="-252.6" y="974.9"/><text x="-248.1" y="981.3">27</text>
<use href="#s" x="-247.2" y="982.8"/><text x="-242.7" y="989.2">28</text>
<use href="#s" x="-242.1" y="991.0"/><text x="-237.6" y="997.4">29</text>
<use href="#s" x="-237.4" y="999.3"/><text x="-232.9" y="1005.7">30</text>
<use href="#s" x="-233.0" y="1007.9"/><text x="-228.5" y="1014.3">31</text>
<use href="#s" x="-286.1" y="966.1"/><text x="-281.6" y="972.5">31</text>
<use href="#s" x="-279.8" y="973.2"/><text x="-275.3" y="979.6">32</text>
<use href="#s" x="-273.9" y="980.5"/><text x="-269.4" y="986.9">33</text>
<use href="#s" x="-268.3" y="988.1"/><text x="-263.8" y="994.5">34</text>
<use href="#s" x="-263.0" y="995.9"/><text x="-258.5" y="1002.3">35</text>
<use href="#s" x="-258.1" y="1004.0"/><text x="-253.6" y="1010.4">36</text>
<use href="#s" x="-253.6" y="1012.2"/><text x="-249.1" y="1018.6">37</text>
<use href="#s" x="-249.4" y="1020.7"/><text x="-244.9" y="1027.1">38</text>
<use href="#s" x="-351.9" y="696.2"/><text x="-347.4" y="702.6">1</text>
<use href="#s" x="-409.3" y="706.2"/><text x="-404.8" y="712.6">1</text>
<use href="#s" x="-396.3" y="707.5"/><text x="-391.8" y="713.9">2</text>
<use href="#s" x="-383.4" y="709.2"/><text x="-378.9" y="715.6">3</text>
<use href="#s" x="-370.5" y="711.3"/><text x="-366.0" y="717.7">4</text>
<use href="#s" x="-357.7" y="713.9"/><text x="-353.2" y="720.3">5</text>
<use href="#s" x="-463.6" y="726.2"/><text x="-459.1" y="732.6">1</text>
<use href="#s" x="-450.3" y="725.6"/><text x="-445.8" y="732.0">2</text>
<use href="#s" x="-437.0" y="725.4"/><text x="-432.5" y="731.8">3</text>
<use href="#s" x="-423.6" y="725.8"/><text x="-419.1" y="732.2">4</text>
<use href="#s" x="-410.3" y="726.5"/><text x="-405.8" y="732.9">5</text>
<use href="#s" x="-397.0" y="727.8"/><text x="-392.5" y="734.2">6</text>
<use href="#s" x="-383.8" y="729.5"/><text x="-379.3" y="735.9">7</text>
<use href="#s" x="-370.6" y="731.7"/><text x="-366.1" y="738.1">8</text>
<use href="#s" x="-357.5" y="734.3"/><text x="-353.0" y="740.7">9</text>
<use href="#s" x="-466.5" y="745.5"/><text x="-462.0" y="751.9">1</text>
<use href="#s" x="-454.2" y="744.8"/><text x="-449.7" y="751.2">2</text>
<use href="#s" x="-441.8" y="744.6"/><text x="-437.3" y="751.0">3</text>
<use href="#s" x="-429.4" y="744.7"/><text x="-424.9" y="751.1">4</text>
<use href="#s" x="-417.0" y="745.3"/><text x="-412.5" y="751.7">5</text>
<use href="#s" x="-404.7" y="746.3"/><text x="-400.2" y="752.7">6</text>
<use href="#s" x="-392.4" y="747.7"/><text x="-387.9" y="754.1">7</text>
<use href="#s" x="-380.1" y="749.6"/><text x="-375.6" y="756.0">8</text>
<use href="#s" x="-367.9" y="751.8"/><text x="-363.4" y="758.2">9</text>
<use href="#s" x="-442.5" y="765.4"/><text x="-438.0" y="771.8">1</text>
<use href="#s" x="-430.8" y="765.5"/><text x="-426.3" y="771.9">2</text>
<use href="#s" x="-419.2" y="766.0"/><text x="-414.7" y="772.4">3</text>
<use href="#s" x="-407.6" y="766.9"/><text x="-403.1" y="773.3">4</text>
<use href="#s" x="-396.0" y="768.2"/><text x="-391.5" y="774.6">5</text>
<use href="#s" x="-384.5" y="769.8"/><text x="-380.0" y="776.2">6</text>
<use href="#s" x="-373.0" y="771.9"/><text x="-368.5" y="778.3">7</text>
<use href="#s" x="-361.6" y="774.3"/><text x="-357.1" y="780.7">8</text>
<use href="#s" x="-456.7" y="783.9"/><text x="-452.2" y="790.3">9</text>
<use href="#s" x="-445.1" y="783.5"/><text x="-440.6" y="789.9">10</text>
<use href="#s" x="-433.4" y="783.6"/><text x="-428.9" y="790.0">11</text>
<use href="#s" x="-421.7" y="784.0"/><text x="-417.2" y="790.4">12</text>
<use href="#s" x="-410.1" y="784.8"/><text x="-405.6" y="791.2">13</text>
<use href="#s" x="-398.5" y="786.1"/><text x="-394.0" y="792.5">14</text>
<use href="#s" x="-386.9" y="787.8"/><text x="-382.4" y="794.2">15</text>
<use href="#s" x="-375.4" y="789.8"/><text x="-370.9" y="796.2">16</text>
<use href="#s" x="-364.0" y="792.3"/><text x="-359.5" y="798.7">17</text>
<use href="#s" x="-452.0" y="803.0"/><text x="-447.5" y="809.4">10</text>
<use href="#s" x="-440.7" y="802.7"/><text x="-436.2" y="809.1">11</text>
<use href="#s" x="-429.4" y="802.9"/><text x="-424.9" y="809.3">12</text>
<use href="#s" x="-418.1" y="803.6"/><text x="-413.6" y="810.0">13</text>
<use href="#s" x="-406.8" y="804.6"/><text x="-402.3" y="811.0">14</text>
<use href="#s" x="-395.6" y="806.0"/><text x="-391.1" y="812.4">15</text>
<use href="#s" x="-384.4" y="807.9"/><text x="-379.9" y="814.3">16</text>
<use href="#s" x="-373.4" y="810.2"/><text x="-368.9" y="816.6">17</text>
<use href="#s" x="-447.1" y="821.8"/><text x="-442.6" y="828.2">9</text>
<use href="#s" x="-436.1" y="821.7"/><text x="-431.6" y="828.1">10</text>
<use href="#s" x="-425.1" y="822.0"/><text x="-420.6" y="828.4">11</text>
<use href="#s" x="-414.2" y="822.8"/><text x="-409.7" y="829.2">12</text>
<use href="#s" x="-403.3" y="823.9"/><text x="-398.8" y="830.3">13</text>
<use href="#s" x="-392.4" y="825.5"/><text x="-387.9" y="831.9">14</text>
<use href="#s" x="-381.6" y="827.5"/><text x="-377.1" y="833.9">15</text>
<use href="#s" x="-370.9" y="829.9"/><text x="-366.4" y="836.3">16</text>
<use href="#s" x="-443.4" y="841.9"/><text x="-438.9" y="848.3">8</text>
<use href="#s" x="-432.7" y="842.0"/><text x="-428.2" y="848.4">9</text>
<use href="#s" x="-422.0" y="842.6"/><text x="-417.5" y="849.0">10</text>
<use href="#s" x="-411.3" y="843.5"/><text x="-406.8" y="849.9">11</text>
<use href="#s" x="-400.7" y="844.9"/><text x="-396.2" y="851.3">12</text>
<use href="#s" x="-390.2" y="846.7"/><text x="-385.7" y="853.1">13</text>
<use href="#s" x="-379.7" y="848.9"/><text x="-375.2" y="855.3">14</text>
<use href="#s" x="-440.3" y="860.9"/><text x="-435.8" y="867.3">8</text>
<use href="#s" x="-430.0" y="861.2"/><text x="-425.5" y="867.6">9</text>
<use href="#s" x="-419.8" y="862.0"/><text x="-415.3" y="868.4">10</text>
<use href="#s" x="-409.6" y="863.2"/><text x="-405.1" y="869.6">11</text>
<use href="#s" x="-399.5" y="864.8"/><text x="-395.0" y="871.2">12</text>
<use href="#s" x="-389.4" y="866.8"/><text x="-384.9" y="873.2">13</text>
<use href="#s" x="-379.5" y="869.3"/><text x="-375.0" y="875.7">14</text>
<use href="#s" x="-436.1" y="880.6"/><text x="-431.6" y="887.0">7</text>
<use href="#s" x="-426.4" y="881.0"/><text x="-421.9" y="887.4">8</text>
<use href="#s" x="-416.7" y="881.9"/><text x="-412.2" y="888.3">9</text>
<use href="#s" x="-407.1" y="883.2"/><text x="-402.6" y="889.6">10</text>
<use href="#s" x="-397.5" y="884.9"/><text x="-393.0" y="891.3">11</text>
<use href="#s" x="-388.0" y="887.0"/><text x="-383.5" y="893.4">12</text>
<use href="#s" x="-378.6" y="889.5"/><text x="-374.1" y="895.9">13</text>
<use href="#s" x="-432.8" y="899.3"/><text x="-428.3" y="905.7">5</text>
<use href="#s" x="-423.3" y="899.9"/><text x="-418.8" y="906.3">6</text>
<use href="#s" x="-413.9" y="900.9"/><text x="-409.4" y="907.3">7</text>
<use href="#s" x="-404.5" y="902.3"/><text x="-400.0" y="908.7">8</text>
<use href="#s" x="-395.2" y="904.2"/><text x="-390.7" y="910.6">9</text>
<use href="#s" x="-386.0" y="906.4"/><text x="-381.5" y="912.8">10</text>
<use href="#s" x="-32.5" y="991.6"/><text x="-28.0" y="998.0">29</text>
<use href="#s" x="-49.9" y="1000.2"/><text x="-45.4" y="1006.6">34</text>
<use href="#s" x="-46.6" y="1012.9"/><text x="-42.1" y="1019.3">35</text>
<use href="#s" x="-43.6" y="1025.6"/><text x="-39.1" y="1032.0">36</text>
<use href="#s" x="-41.0" y="1038.5"/><text x="-36.5" y="1044.9">37</text>
<use href="#s" x="-38.9" y="1051.4"/><text x="-34.4" y="1057.8">38</text>
<use href="#s" x="-73.3" y="989.5"/><text x="-68.8" y="995.9">36</text>
<use href="#s" x="-69.4" y="1002.3"/><text x="-64.9" y="1008.7">37</text>
<use href="#s" x="-66.0" y="1015.2"/><text x="-61.5" y="1021.6">38</text>
<use href="#s" x="-63.1" y="1028.2"/><text x="-58.6" y="1034.6">39</text>
<use href="#s" x="-60.6" y="1041.3"/><text x="-56.1" y="1047.7">40</text>
<use href="#s" x="-58.5" y="1054.5"/><text x="-54.0" y="1060.9">41</text>
<use href="#s" x="-57.0" y="1067.7"/><text x="-52.5" y="1074.1">42</text>
<use href="#s" x="-55.8" y="1081.0"/><text x="-51.3" y="1087.4">43</text>
<use href="#s" x="-90.0" y="1001.4"/><text x="-85.5" y="1007.8">38</text>
<use href="#s" x="-86.5" y="1013.3"/><text x="-82.0" y="1019.7">39</text>
<use href="#s" x="-83.4" y="1025.4"/><text x="-78.9" y="1031.8">40</text>
<use href="#s" x="-80.8" y="1037.5"/><text x="-76.3" y="1043.9">41</text>
<use href="#s" x="-78.5" y="1049.8"/><text x="-74.0" y="1056.2">42</text>
<use href="#s" x="-76.6" y="1062.1"/><text x="-72.1" y="1068.5">43</text>
<use href="#s" x="-75.2" y="1074.4"/><text x="-70.7" y="1080.8">44</text>
<use href="#s" x="-74.2" y="1086.8"/><text x="-69.7" y="1093.2">45</text>
<use href="#s" x="-73.6" y="1099.3"/><text x="-69.1" y="1105.7">46</text>
<use href="#s" x="-113.1" y="997.1"/><text x="-108.6" y="1003.5">35</text>
<use href="#s" x="-109.4" y="1008.2"/><text x="-104.9" y="1014.6">36</text>
<use href="#s" x="-106.1" y="1019.3"/><text x="-101.6" y="1025.7">37</text>
<use href="#s" x="-103.1" y="1030.6"/><text x="-98.6" y="1037.0">38</text>
<use href="#s" x="-100.5" y="1042.0"/><text x="-96.0" y="1048.4">39</text>
<use href="#s" x="-98.4" y="1053.5"/><text x="-93.9" y="1059.9">40</text>
<use href="#s" x="-96.6" y="1065.0"/><text x="-92.1" y="1071.4">41</text>
<use href="#s" x="-95.1" y="1076.5"/><text x="-90.6" y="1082.9">42</text>
<use href="#s" x="-131.0" y="1002.1"/><text x="-126.5" y="1008.5">42</text>
<use href="#s" x="-127.4" y="1013.1"/><text x="-122.9" y="1019.5">43</text>
<use href="#s" x="-124.1" y="1024.3"/><text x="-119.6" y="1030.7">44</text>
<use href="#s" x="-121.2" y="1035.6"/><text x="-116.7" y="1042.0">45</text>
<use href="#s" x="-118.7" y="1047.0"/><text x="-114.2" y="1053.4">46</text>
<use href="#s" x="-116.6" y="1058.5"/><text x="-112.1" y="1064.9">47</text>
<use href="#s" x="-114.9" y="1070.0"/><text x="-110.4" y="1076.4">48</text>
<use href="#s" x="-113.7" y="1081.6"/><text x="-109.2" y="1088.0">49</text>
<use href="#s" x="-112.8" y="1093.2"/><text x="-108.3" y="1099.6">50</text>
<use href="#s" x="-147.8" y="1013.2"/><text x="-143.3" y="1019.6">42</text>
<use href="#s" x="-144.3" y="1024.1"/><text x="-139.8" y="1030.5">43</text>
<use href="#s" x="-141.2" y="1035.1"/><text x="-136.7" y="1041.5">44</text>
<use href="#s" x="-138.6" y="1046.2"/><text x="-134.1" y="1052.6">45</text>
<use href="#s" x="-136.3" y="1057.4"/><text x="-131.8" y="1063.8">46</text>
<use href="#s" x="-134.5" y="1068.7"/><text x="-130.0" y="1075.1">47</text>
<use href="#s" x="-133.0" y="1080.0"/><text x="-128.5" y="1086.4">48</text>
<use href="#s" x="-132.0" y="1091.4"/><text x="-127.5" y="1097.8">49</text>
<use href="#s" x="-167.5" y="1013.0"/><text x="-163.0" y="1019.4">39</text>
<use href="#s" x="-164.0" y="1023.4"/><text x="-159.5" y="1029.8">40</text>
<use href="#s" x="-160.8" y="1034.0"/><text x="-156.3" y="1040.4">41</text>
<use href="#s" x="-158.0" y="1044.7"/><text x="-153.5" y="1051.1">42</text>
<use href="#s" x="-155.7" y="1055.5"/><text x="-151.2" y="1061.9">43</text>
<use href="#s" x="-153.8" y="1066.4"/><text x="-149.3" y="1072.8">44</text>
<use href="#s" x="-152.3" y="1077.3"/><text x="-147.8" y="1083.7">45</text>
<use href="#s" x="-151.2" y="1088.3"/><text x="-146.7" y="1094.7">46</text>
<use href="#s" x="-185.7" y="1023.5"/><text x="-181.2" y="1029.9">37</text>
<use href="#s" x="-182.4" y="1033.6"/><text x="-177.9" y="1040.0">38</text>
<use href="#s" x="-179.4" y="1043.9"/><text x="-174.9" y="1050.3">39</text>
<use href="#s" x="-176.9" y="1054.2"/><text x="-172.4" y="1060.6">40</text>
<use href="#s" x="-174.8" y="1064.7"/><text x="-170.3" y="1071.1">41</text>
<use href="#s" x="-173.1" y="1075.2"/><text x="-168.6" y="1081.6">42</text>
<use href="#s" x="-171.8" y="1085.8"/><text x="-167.3" y="1092.2">43</text>
<use href="#s" x="-205.8" y="1024.6"/><text x="-201.3" y="1031.0">35</text>
<use href="#s" x="-202.4" y="1034.4"/><text x="-197.9" y="1040.8">36</text>
<use href="#s" x="-199.4" y="1044.2"/><text x="-194.9" y="1050.6">37</text>
<use href="#s" x="-196.9" y="1054.2"/><text x="-192.4" y="1060.6">38</text>
<use href="#s" x="-194.7" y="1064.2"/><text x="-190.2" y="1070.6">39</text>
<use href="#s" x="-192.9" y="1074.4"/><text x="-188.4" y="1080.8">40</text>
<use href="#s" x="-191.6" y="1084.6"/><text x="-187.1" y="1091.0">41</text>
<use href="#s" x="-226.2" y="1025.8"/><text x="-221.7" y="1032.2">32</text>
<use href="#s" x="-222.6" y="1035.0"/><text x="-218.1" y="1041.4">33</text>
<use href="#s" x="-219.4" y="1044.2"/><text x="-214.9" y="1050.6">34</text>
<use href="#s" x="-216.7" y="1053.6"/><text x="-212.2" y="1060.0">35</text>
<use href="#s" x="-214.3" y="1063.1"/><text x="-209.8" y="1069.5">36</text>
<use href="#s" x="-212.3" y="1072.7"/><text x="-207.8" y="1079.1">37</text>
<use href="#s" x="-210.7" y="1082.4"/><text x="-206.2" y="1088.8">38</text>
<use href="#s" x="-239.4" y="1035.7"/><text x="-234.9" y="1042.1">29</text>
<use href="#s" x="-236.6" y="1044.7"/><text x="-232.1" y="1051.1">30</text>
<use href="#s" x="-234.2" y="1053.8"/><text x="-229.7" y="1060.2">31</text>
<use href="#s" x="-232.3" y="1063.0"/><text x="-227.8" y="1069.4">32</text>
<use href="#s" x="-230.7" y="1072.3"/><text x="-226.2" y="1078.7">33</text>
<use href="#s" x="-229.6" y="1081.6"/><text x="-225.1" y="1088.0">34</text>
<use href="#s" x="-559.2" y="806.1"/><text x="-554.7" y="812.5">1</text>
<use href="#s" x="-548.2" y="802.1"/><text x="-543.7" y="808.5">2</text>
<use href="#s" x="-537.1" y="798.5"/><text x="-532.6" y="804.9">3</text>
<use href="#s" x="-525.8" y="795.3"/><text x="-521.3" y="801.7">4</text>
<use href="#s" x="-514.5" y="792.5"/><text x="-510.0" y="798.9">5</text>
<use href="#s" x="-503.0" y="790.1"/><text x="-498.5" y="796.5">6</text>
<use href="#s" x="-491.5" y="788.1"/><text x="-487.0" y="794.5">7</text>
<use href="#s" x="-480.0" y="786.6"/><text x="-475.5" y="793.0">8</text>
<use href="#s" x="-562.7" y="828.7"/><text x="-558.2" y="835.1">1</text>
<use href="#s" x="-552.2" y="824.3"/><text x="-547.7" y="830.7">2</text>
<use href="#s" x="-541.6" y="820.3"/><text x="-537.1" y="826.7">3</text>
<use href="#s" x="-530.9" y="816.7"/><text x="-526.4" y="823.1">4</text>
<use href="#s" x="-520.0" y="813.5"/><text x="-515.5" y="819.9">5</text>
<use href="#s" x="-509.0" y="810.7"/><text x="-504.5" y="817.1">6</text>
<use href="#s" x="-497.9" y="808.3"/><text x="-493.4" y="814.7">7</text>
<use href="#s" x="-486.7" y="806.3"/><text x="-482.2" y="812.7">8</text>
<use href="#s" x="-475.5" y="804.7"/><text x="-471.0" y="811.1">9</text>
<use href="#s" x="-543.5" y="841.7"/><text x="-539.0" y="848.1">1</text>
<use href="#s" x="-533.2" y="837.9"/><text x="-528.7" y="844.3">2</text>
<use href="#s" x="-522.7" y="834.5"/><text x="-518.2" y="840.9">3</text>
<use href="#s" x="-512.1" y="831.5"/><text x="-507.6" y="837.9">4</text>
<use href="#s" x="-501.4" y="828.9"/><text x="-496.9" y="835.3">5</text>
<use href="#s" x="-490.6" y="826.7"/><text x="-486.1" y="833.1">6</text>
<use href="#s" x="-479.7" y="824.9"/><text x="-475.2" y="831.3">7</text>
<use href="#s" x="-468.8" y="823.5"/><text x="-464.3" y="829.9">8</text>
<use href="#s" x="-526.1" y="856.0"/><text x="-521.6" y="862.4">1</text>
<use href="#s" x="-516.0" y="852.9"/><text x="-511.5" y="859.3">2</text>
<use href="#s" x="-505.8" y="850.2"/><text x="-501.3" y="856.6">3</text>
<use href="#s" x="-495.5" y="847.9"/><text x="-491.0" y="854.3">4</text>
<use href="#s" x="-485.2" y="846.0"/><text x="-480.7" y="852.4">5</text>
<use href="#s" x="-474.7" y="844.5"/><text x="-470.2" y="850.9">6</text>
<use href="#s" x="-464.2" y="843.4"/><text x="-459.7" y="849.8">7</text>
<use href="#s" x="-519.5" y="873.4"/><text x="-515.0" y="879.8">1</text>
<use href="#s" x="-509.8" y="870.3"/><text x="-505.3" y="876.7">2</text>
<use href="#s" x="-499.9" y="867.7"/><text x="-495.4" y="874.1">3</text>
<use href="#s" x="-489.9" y="865.4"/><text x="-485.4" y="871.8">4</text>
<use href="#s" x="-479.9" y="863.5"/><text x="-475.4" y="869.9">5</text>
<use href="#s" x="-469.7" y="862.1"/><text x="-465.2" y="868.5">6</text>
<use href="#s" x="-459.6" y="861.1"/><text x="-455.1" y="867.5">7</text>
<use href="#s" x="-503.8" y="889.6"/><text x="-499.3" y="896.0">1</text>
<use href="#s" x="-494.2" y="887.2"/><text x="-489.7" y="893.6">2</text>
<use href="#s" x="-484.5" y="885.2"/><text x="-480.0" y="891.6">3</text>
<use href="#s" x="-474.8" y="883.7"/><text x="-470.3" y="890.1">4</text>
<use href="#s" x="-465.0" y="882.6"/><text x="-460.5" y="889.0">5</text>
<use href="#s" x="-455.1" y="881.9"/><text x="-450.6" y="888.3">6</text>
<use href="#s" x="-479.7" y="902.8"/><text x="-475.2" y="909.2">1</text>
<use href="#s" x="-470.0" y="901.6"/><text x="-465.5" y="908.0">2</text>
<use href="#s" x="-460.3" y="900.8"/><text x="-455.8" y="907.2">3</text>
<use href="#s" x="-450.6" y="900.5"/><text x="-446.1" y="906.9">4</text>
<use href="#s" x="-94.0" y="1121.9"/><text x="-89.5" y="1128.3">43</text>
<use href="#s" x="-95.0" y="1133.9"/><text x="-90.5" y="1140.3">44</text>
<use href="#s" x="-113.5" y="1117.2"/><text x="-109.0" y="1123.6">51</text>
<use href="#s" x="-113.8" y="1128.7"/><text x="-109.3" y="1135.1">52</text>
<use href="#s" x="-114.5" y="1140.2"/><text x="-110.0" y="1146.6">53</text>
<use href="#s" x="-115.6" y="1151.6"/><text x="-111.1" y="1158.0">54</text>
<use href="#s" x="-117.0" y="1163.1"/><text x="-112.5" y="1169.5">55</text>
<use href="#s" x="-118.9" y="1174.4"/><text x="-114.4" y="1180.8">56</text>
<use href="#s" x="-121.2" y="1185.7"/><text x="-116.7" y="1192.1">57</text>
<use href="#s" x="-123.9" y="1196.9"/><text x="-119.4" y="1203.3">58</text>
<use href="#s" x="-131.6" y="1113.3"/><text x="-127.1" y="1119.7">50</text>
<use href="#s" x="-131.8" y="1124.6"/><text x="-127.3" y="1131.0">51</text>
<use href="#s" x="-132.5" y="1135.9"/><text x="-128.0" y="1142.3">52</text>
<use href="#s" x="-133.6" y="1147.2"/><text x="-129.1" y="1153.6">53</text>
<use href="#s" x="-135.1" y="1158.5"/><text x="-130.6" y="1164.9">54</text>
<use href="#s" x="-137.0" y="1169.6"/><text x="-132.5" y="1176.0">55</text>
<use href="#s" x="-139.3" y="1180.7"/><text x="-134.8" y="1187.1">56</text>
<use href="#s" x="-142.1" y="1191.7"/><text x="-137.6" y="1198.1">57</text>
<use href="#s" x="-150.9" y="1109.3"/><text x="-146.4" y="1115.7">47</text>
<use href="#s" x="-151.0" y="1120.3"/><text x="-146.5" y="1126.7">48</text>
<use href="#s" x="-151.6" y="1131.3"/><text x="-147.1" y="1137.7">49</text>
<use href="#s" x="-152.5" y="1142.3"/><text x="-148.0" y="1148.7">50</text>
<use href="#s" x="-153.9" y="1153.2"/><text x="-149.4" y="1159.6">51</text>
<use href="#s" x="-155.6" y="1164.1"/><text x="-151.1" y="1170.5">52</text>
<use href="#s" x="-157.8" y="1174.9"/><text x="-153.3" y="1181.3">53</text>
<use href="#s" x="-171.1" y="1106.7"/><text x="-166.6" y="1113.1">44</text>
<use href="#s" x="-171.2" y="1117.1"/><text x="-166.7" y="1123.5">45</text>
<use href="#s" x="-171.6" y="1127.5"/><text x="-167.1" y="1133.9">46</text>
<use href="#s" x="-172.5" y="1137.9"/><text x="-168.0" y="1144.3">47</text>
<use href="#s" x="-173.8" y="1148.3"/><text x="-169.3" y="1154.7">48</text>
<use href="#s" x="-175.5" y="1158.6"/><text x="-171.0" y="1165.0">49</text>
<use href="#s" x="-177.5" y="1168.8"/><text x="-173.0" y="1175.2">50</text>
<use href="#s" x="-189.8" y="1104.7"/><text x="-185.3" y="1111.1">42</text>
<use href="#s" x="-189.7" y="1114.5"/><text x="-185.2" y="1120.9">43</text>
<use href="#s" x="-190.0" y="1124.4"/><text x="-185.5" y="1130.8">44</text>
<use href="#s" x="-190.8" y="1134.3"/><text x="-186.3" y="1140.7">45</text>
<use href="#s" x="-191.9" y="1144.1"/><text x="-187.4" y="1150.5">46</text>
<use href="#s" x="-193.4" y="1153.8"/><text x="-188.9" y="1160.2">47</text>
<use href="#s" x="-209.9" y="1102.0"/><text x="-205.4" y="1108.4">39</text>
<use href="#s" x="-209.9" y="1111.9"/><text x="-205.4" y="1118.3">40</text>
<use href="#s" x="-210.3" y="1121.8"/><text x="-205.8" y="1128.2">41</text>
<use href="#s" x="-211.1" y="1131.6"/><text x="-206.6" y="1138.0">42</text>
<use href="#s" x="-212.3" y="1141.5"/><text x="-207.8" y="1147.9">43</text>
<use href="#s" x="-213.9" y="1151.2"/><text x="-209.4" y="1157.6">44</text>
<use href="#s" x="-229.2" y="1099.9"/><text x="-224.7" y="1106.3">35</text>
<use href="#s" x="-228.6" y="1109.4"/><text x="-224.1" y="1115.8">36</text>
<use href="#s" x="-228.5" y="1119.1"/><text x="-224.0" y="1125.5">37</text>
<use href="#s" x="-228.9" y="1128.7"/><text x="-224.4" y="1135.1">38</text>
</g>
</svg>
</body></html>
